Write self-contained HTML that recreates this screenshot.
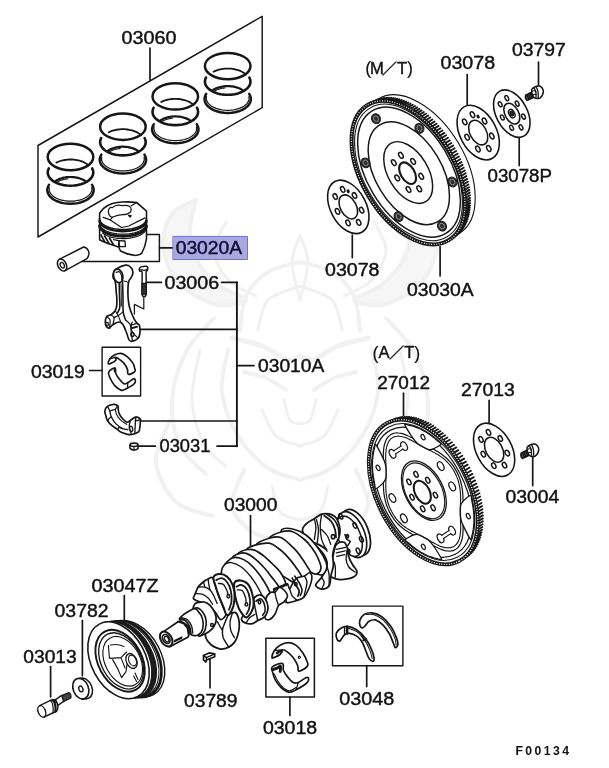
<!DOCTYPE html>
<html><head><meta charset="utf-8"><title>Piston &amp; Crankshaft</title>
<style>
html,body{margin:0;padding:0;background:#fff;}
body{width:609px;height:768px;overflow:hidden;}
svg{display:block;will-change:transform;}
svg text{font-family:"Liberation Sans",Arial,Helvetica,sans-serif;fill:#111;stroke:#111;stroke-width:0.42px;}
</style></head><body>
<svg width="609" height="768" viewBox="0 0 609 768" fill="none" stroke="#161616" stroke-linecap="round" stroke-linejoin="round">
<rect x="0" y="0" width="609" height="768" fill="#fff" stroke="none"/>
<g id="watermark" stroke="#f1f1f1" fill="none" stroke-width="4" stroke-linecap="round">
<path d="M196,200 C192,202.3 177.5,206.3 172,214 C166.5,221.7 162,234.7 163,246 C164,257.3 169.5,272.3 178,282 C186.5,291.7 202.7,301 214,304 C225.3,307 245,303 246,300 C247,297 228,292.3 220,286 C212,279.7 203,271 198,262 C193,253 190.3,242.3 190,232 C189.7,221.7 195,205.3 196,200 Z" stroke-width="4" fill="#f6f6f6"/>
<path d="M404,200 C408,202.3 422.5,206.3 428,214 C433.5,221.7 438,234.7 437,246 C436,257.3 430.5,272.3 422,282 C413.5,291.7 397.3,301 386,304 C374.7,307 355,303 354,300 C353,297 372,292.3 380,286 C388,279.7 397,271 402,262 C407,253 409.7,242.3 410,232 C410.3,221.7 405,205.3 404,200 Z" stroke-width="4" fill="#f6f6f6"/>
<path d="M226,222 C224,226.7 213.7,240.3 214,250 C214.3,259.7 221,272.3 228,280 C235,287.7 251.3,293.3 256,296" stroke-width="3" fill="none"/>
<path d="M374,222 C376,226.7 386.3,240.3 386,250 C385.7,259.7 379,272.3 372,280 C365,287.7 348.7,293.3 344,296" stroke-width="3" fill="none"/>
<path d="M240,330 C241,324.3 241.3,305.7 246,296 C250.7,286.3 259,277.7 268,272 C277,266.3 294.7,263.7 300,262" stroke-width="4" fill="none"/>
<path d="M360,330 C359,324.3 358.7,305.7 354,296 C349.3,286.3 341,277.7 332,272 C323,266.3 305.3,263.7 300,262" stroke-width="4" fill="none"/>
<path d="M258,330 C259.7,325 261,307.3 268,300 C275,292.7 294.7,288.3 300,286" stroke-width="3" fill="none"/>
<path d="M342,330 C340.3,325 339,307.3 332,300 C325,292.7 305.3,288.3 300,286" stroke-width="3" fill="none"/>
<path d="M300,236 C298.7,240.3 292,251.3 292,262 C292,272.7 298.7,293.7 300,300" stroke-width="3" fill="none"/>
<path d="M300,236 C301.3,240.3 308,251.3 308,262 C308,272.7 301.3,293.7 300,300" stroke-width="3" fill="none"/>
<path d="M232,338 C237,339.3 252.7,342.3 262,346 C271.3,349.7 281.7,358.3 288,360 C294.3,361.7 298,356.7 300,356" stroke-width="5" fill="none"/>
<path d="M368,338 C363,339.3 347.3,342.3 338,346 C328.7,349.7 318.3,358.3 312,360 C305.7,361.7 302,356.7 300,356" stroke-width="5" fill="none"/>
<path d="M244,372 C247.7,373 259,375 266,378 C273,381 282.7,388 286,390" stroke-width="4" fill="none"/>
<path d="M356,372 C352.3,373 341,375 334,378 C327,381 317.3,388 314,390" stroke-width="4" fill="none"/>
<path d="M228,350 C227,357 220.3,377.7 222,392 C223.7,406.3 230.3,423.3 238,436 C245.7,448.7 257.7,460.7 268,468 C278.3,475.3 294.7,478 300,480" stroke-width="4" fill="none"/>
<path d="M372,350 C373,357 379.7,377.7 378,392 C376.3,406.3 369.7,423.3 362,436 C354.3,448.7 342.3,460.7 332,468 C321.7,475.3 305.3,478 300,480" stroke-width="4" fill="none"/>
<path d="M262,410 C264.3,414.3 269.7,430 276,436 C282.3,442 296,444.3 300,446" stroke-width="3" fill="none"/>
<path d="M338,410 C335.7,414.3 330.3,430 324,436 C317.7,442 304,444.3 300,446" stroke-width="3" fill="none"/>
<path d="M284,400 C285,403.3 287.3,416 290,420 C292.7,424 298.3,423.3 300,424" stroke-width="3" fill="none"/>
<path d="M316,400 C315,403.3 312.7,416 310,420 C307.3,424 301.7,423.3 300,424" stroke-width="3" fill="none"/>
<path d="M214,318 C209.3,323.7 193,338.3 186,352 C179,365.7 173,384.3 172,400 C171,415.7 174.3,433.7 180,446 C185.7,458.3 201.7,469.3 206,474" stroke-width="4" fill="none"/>
<path d="M386,318 C390.7,323.7 407,338.3 414,352 C421,365.7 427,384.3 428,400 C429,415.7 425.7,433.7 420,446 C414.3,458.3 398.3,469.3 394,474" stroke-width="4" fill="none"/>
<path d="M200,350 C198.7,358.3 191.3,384.3 192,400 C192.7,415.7 198.3,433 204,444 C209.7,455 222.3,462.3 226,466" stroke-width="3" fill="none"/>
<path d="M400,350 C401.3,358.3 408.7,384.3 408,400 C407.3,415.7 401.7,433 396,444 C390.3,455 377.7,462.3 374,466" stroke-width="3" fill="none"/>
<path d="M170,420 C167.7,427 155,448.3 156,462 C157,475.7 166.7,493 176,502 C185.3,511 206,513.7 212,516" stroke-width="4" fill="none"/>
<path d="M430,420 C432.3,427 445,448.3 444,462 C443,475.7 433.3,493 424,502 C414.7,511 394,513.7 388,516" stroke-width="4" fill="none"/>
<path d="M244,470 C242,476 230,495.3 232,506 C234,516.7 244.7,527.7 256,534 C267.3,540.3 292.7,542.3 300,544" stroke-width="4" fill="none"/>
<path d="M356,470 C358,476 370,495.3 368,506 C366,516.7 355.3,527.7 344,534 C332.7,540.3 307.3,542.3 300,544" stroke-width="4" fill="none"/>
<path d="M272,486 C273.3,490.3 275.3,506.3 280,512 C284.7,517.7 296.7,518.7 300,520" stroke-width="3" fill="none"/>
<path d="M328,486 C326.7,490.3 324.7,506.3 320,512 C315.3,517.7 303.3,518.7 300,520" stroke-width="3" fill="none"/>
</g>
<g id="rings">
<path d="M38,145.5 L262.2,16.3 L262.2,107.7 L38,237 Z" stroke-width="1.46" fill="none" />
<line x1="150" y1="48" x2="150" y2="80.5" stroke-width="1.68" />
<text x="121.6" y="44" font-size="17.6" textLength="54.9" lengthAdjust="spacingAndGlyphs" >03060</text>
<ellipse cx="70.5" cy="157" rx="22.8" ry="13.2" stroke-width="2.46" fill="none" />
<path d="M56.4,162.6 L57.6,162 L58.9,161.5 L60.2,161 L61.6,160.6 L63.1,160.3 L64.5,160 L66,159.8 L67.6,159.6 L69.1,159.5 L70.7,159.5 L72.2,159.5 L73.8,159.6 L75.3,159.8 L76.8,160.1 L78.3,160.4 L79.7,160.7 L81.1,161.1 L82.4,161.6 L83.6,162.1 L84.8,162.7 L85.9,163.4 L86.9,164 L87.9,164.7 L88.7,165.5" stroke-width="1.79" fill="none" />
<path d="M92.2,168.4 L93,170.4 L93.3,172.5 L93,174.6 L92.2,176.6 L90.8,178.5 L88.9,180.3 L86.6,181.8 L83.9,183.2 L80.9,184.3 L77.5,185.1 L74.1,185.5 L70.5,185.7 L66.9,185.5 L63.5,185.1 L60.1,184.3 L57.1,183.2 L54.4,181.8 L52.1,180.3 L50.2,178.5 L48.8,176.6 L48,174.6 L47.7,172.5 L48,170.4 L48.8,168.4" stroke-width="2.58" fill="none" />
<path d="M55.3,181.3 L56.3,180.6 L57.4,180 L58.5,179.4 L59.7,178.9 L61,178.5 L62.3,178.1 L63.7,177.7 L65.1,177.5 L66.5,177.2 L67.9,177.1 L69.4,177 L70.9,177 L72.3,177.1 L73.8,177.2 L75.2,177.3 L76.6,177.6 L78,177.9 L79.3,178.3 L80.6,178.7 L81.9,179.2 L83.1,179.7 L84.2,180.3 L85.2,181 L86.2,181.6" stroke-width="2.24" fill="none" />
<path d="M57.5,181.9 L57.8,181.7 L58.2,181.5 L58.6,181.3 L58.9,181.1 L59.3,181 L59.7,180.8 L60.1,180.6 L60.6,180.4 L61,180.3 L61.4,180.1 L61.8,180 L62.3,179.9 L62.7,179.7 L63.1,179.6 L63.6,179.5 L64,179.4 L64.5,179.3 L65,179.2 L65.4,179.1 L65.9,179.1 L66.4,179 L66.8,178.9 L67.3,178.9 L67.8,178.8" stroke-width="1.12" fill="none" />
<path d="M92,184.8 L93.1,187 L93.7,189.2 L93.6,191.4 L92.9,193.6 L91.6,195.8 L89.7,197.7 L87.4,199.5 L84.6,201 L81.4,202.2 L77.9,203.1 L74.3,203.6 L70.5,203.8 L66.7,203.6 L63.1,203.1 L59.6,202.2 L56.4,201 L53.6,199.5 L51.3,197.7 L49.4,195.8 L48.1,193.6 L47.4,191.4 L47.3,189.2 L47.9,187 L49,184.8" stroke-width="2.46" fill="none" />
<path d="M91.7,187.5 L91.9,189.2 L91.7,190.9 L91,192.6 L89.9,194.2 L88.5,195.7 L86.7,197.1 L84.5,198.3 L82.1,199.3 L79.4,200.1 L76.5,200.7 L73.5,201.1 L70.5,201.2 L67.5,201.1 L64.5,200.7 L61.6,200.1 L58.9,199.3 L56.5,198.3 L54.3,197.1 L52.5,195.7 L51.1,194.2 L50,192.6 L49.3,190.9 L49.1,189.2 L49.3,187.5" stroke-width="1.23" fill="none" />
<ellipse cx="122.9" cy="126.7" rx="22.8" ry="13.2" stroke-width="2.46" fill="none" />
<path d="M108.8,132.3 L110,131.7 L111.3,131.2 L112.6,130.7 L114,130.3 L115.5,130 L116.9,129.7 L118.4,129.5 L120,129.3 L121.5,129.2 L123.1,129.2 L124.6,129.2 L126.2,129.3 L127.7,129.5 L129.2,129.8 L130.7,130.1 L132.1,130.4 L133.5,130.8 L134.8,131.3 L136,131.8 L137.2,132.4 L138.3,133.1 L139.3,133.7 L140.3,134.4 L141.1,135.2" stroke-width="1.79" fill="none" />
<path d="M144.6,138.1 L145.4,140.1 L145.7,142.2 L145.4,144.3 L144.6,146.3 L143.2,148.2 L141.3,150 L139,151.5 L136.3,152.9 L133.3,154 L129.9,154.8 L126.5,155.2 L122.9,155.4 L119.3,155.2 L115.9,154.8 L112.5,154 L109.5,152.9 L106.8,151.5 L104.5,150 L102.6,148.2 L101.2,146.3 L100.4,144.3 L100.1,142.2 L100.4,140.1 L101.2,138.1" stroke-width="2.58" fill="none" />
<path d="M107.7,151 L108.7,150.3 L109.8,149.7 L110.9,149.1 L112.1,148.6 L113.4,148.2 L114.7,147.8 L116.1,147.4 L117.5,147.2 L118.9,146.9 L120.3,146.8 L121.8,146.7 L123.3,146.7 L124.7,146.8 L126.2,146.9 L127.6,147 L129,147.3 L130.4,147.6 L131.7,148 L133,148.4 L134.3,148.9 L135.5,149.4 L136.6,150 L137.6,150.7 L138.6,151.3" stroke-width="2.24" fill="none" />
<path d="M109.9,151.6 L110.2,151.4 L110.6,151.2 L111,151 L111.3,150.8 L111.7,150.7 L112.1,150.5 L112.5,150.3 L113,150.1 L113.4,150 L113.8,149.8 L114.2,149.7 L114.7,149.6 L115.1,149.4 L115.5,149.3 L116,149.2 L116.4,149.1 L116.9,149 L117.4,148.9 L117.8,148.8 L118.3,148.8 L118.8,148.7 L119.2,148.6 L119.7,148.6 L120.2,148.5" stroke-width="1.12" fill="none" />
<path d="M144.4,154.5 L145.5,156.7 L146.1,158.9 L146,161.1 L145.3,163.3 L144,165.5 L142.1,167.4 L139.8,169.2 L137,170.7 L133.8,171.9 L130.3,172.8 L126.7,173.3 L122.9,173.5 L119.1,173.3 L115.5,172.8 L112,171.9 L108.8,170.7 L106,169.2 L103.7,167.4 L101.8,165.5 L100.5,163.3 L99.8,161.1 L99.7,158.9 L100.3,156.7 L101.4,154.5" stroke-width="2.46" fill="none" />
<path d="M144.1,157.2 L144.3,158.9 L144.1,160.6 L143.4,162.3 L142.3,163.9 L140.9,165.4 L139.1,166.8 L136.9,168 L134.5,169 L131.8,169.8 L128.9,170.4 L125.9,170.8 L122.9,170.9 L119.9,170.8 L116.9,170.4 L114,169.8 L111.3,169 L108.9,168 L106.7,166.8 L104.9,165.4 L103.5,163.9 L102.4,162.3 L101.7,160.6 L101.5,158.9 L101.7,157.2" stroke-width="1.23" fill="none" />
<ellipse cx="175.3" cy="96.4" rx="22.8" ry="13.2" stroke-width="2.46" fill="none" />
<path d="M161.2,102 L162.4,101.4 L163.7,100.9 L165,100.4 L166.4,100 L167.9,99.7 L169.3,99.4 L170.8,99.2 L172.4,99 L173.9,98.9 L175.5,98.9 L177,98.9 L178.6,99 L180.1,99.2 L181.6,99.5 L183.1,99.8 L184.5,100.1 L185.9,100.5 L187.2,101 L188.4,101.5 L189.6,102.1 L190.7,102.8 L191.7,103.4 L192.7,104.1 L193.5,104.9" stroke-width="1.79" fill="none" />
<path d="M197,107.8 L197.8,109.8 L198.1,111.9 L197.8,114 L197,116 L195.6,117.9 L193.7,119.7 L191.4,121.2 L188.7,122.6 L185.7,123.7 L182.3,124.5 L178.9,124.9 L175.3,125.1 L171.7,124.9 L168.3,124.5 L164.9,123.7 L161.9,122.6 L159.2,121.2 L156.9,119.7 L155,117.9 L153.6,116 L152.8,114 L152.5,111.9 L152.8,109.8 L153.6,107.8" stroke-width="2.58" fill="none" />
<path d="M160.1,120.7 L161.1,120 L162.2,119.4 L163.3,118.8 L164.5,118.3 L165.8,117.9 L167.1,117.5 L168.5,117.1 L169.9,116.9 L171.3,116.6 L172.7,116.5 L174.2,116.4 L175.7,116.4 L177.1,116.5 L178.6,116.6 L180,116.7 L181.4,117 L182.8,117.3 L184.1,117.7 L185.4,118.1 L186.7,118.6 L187.9,119.1 L189,119.7 L190,120.4 L191,121" stroke-width="2.24" fill="none" />
<path d="M162.3,121.3 L162.6,121.1 L163,120.9 L163.4,120.7 L163.7,120.5 L164.1,120.4 L164.5,120.2 L164.9,120 L165.4,119.8 L165.8,119.7 L166.2,119.5 L166.6,119.4 L167.1,119.3 L167.5,119.1 L167.9,119 L168.4,118.9 L168.8,118.8 L169.3,118.7 L169.8,118.6 L170.2,118.5 L170.7,118.5 L171.2,118.4 L171.6,118.3 L172.1,118.3 L172.6,118.2" stroke-width="1.12" fill="none" />
<path d="M196.8,124.2 L197.9,126.4 L198.5,128.6 L198.4,130.8 L197.7,133 L196.4,135.2 L194.5,137.1 L192.2,138.9 L189.4,140.4 L186.2,141.6 L182.7,142.5 L179.1,143 L175.3,143.2 L171.5,143 L167.9,142.5 L164.4,141.6 L161.2,140.4 L158.4,138.9 L156.1,137.1 L154.2,135.2 L152.9,133 L152.2,130.8 L152.1,128.6 L152.7,126.4 L153.8,124.2" stroke-width="2.46" fill="none" />
<path d="M196.5,126.9 L196.7,128.6 L196.5,130.3 L195.8,132 L194.7,133.6 L193.3,135.1 L191.5,136.5 L189.3,137.7 L186.9,138.7 L184.2,139.5 L181.3,140.1 L178.3,140.5 L175.3,140.6 L172.3,140.5 L169.3,140.1 L166.4,139.5 L163.7,138.7 L161.3,137.7 L159.1,136.5 L157.3,135.1 L155.9,133.6 L154.8,132 L154.1,130.3 L153.9,128.6 L154.1,126.9" stroke-width="1.23" fill="none" />
<ellipse cx="227.7" cy="66.1" rx="22.8" ry="13.2" stroke-width="2.46" fill="none" />
<path d="M213.6,71.7 L214.8,71.1 L216.1,70.6 L217.4,70.1 L218.8,69.7 L220.3,69.4 L221.7,69.1 L223.2,68.9 L224.8,68.7 L226.3,68.6 L227.9,68.6 L229.4,68.6 L231,68.7 L232.5,68.9 L234,69.2 L235.5,69.5 L236.9,69.8 L238.3,70.2 L239.6,70.7 L240.8,71.2 L242,71.8 L243.1,72.5 L244.1,73.1 L245.1,73.8 L245.9,74.6" stroke-width="1.79" fill="none" />
<path d="M249.4,77.5 L250.2,79.5 L250.5,81.6 L250.2,83.7 L249.4,85.7 L248,87.6 L246.1,89.4 L243.8,90.9 L241.1,92.3 L238.1,93.4 L234.7,94.2 L231.3,94.6 L227.7,94.8 L224.1,94.6 L220.7,94.2 L217.3,93.4 L214.3,92.3 L211.6,90.9 L209.3,89.4 L207.4,87.6 L206,85.7 L205.2,83.7 L204.9,81.6 L205.2,79.5 L206,77.5" stroke-width="2.58" fill="none" />
<path d="M212.5,90.4 L213.5,89.7 L214.6,89.1 L215.7,88.5 L216.9,88 L218.2,87.6 L219.5,87.2 L220.9,86.8 L222.3,86.6 L223.7,86.3 L225.1,86.2 L226.6,86.1 L228.1,86.1 L229.5,86.2 L231,86.3 L232.4,86.4 L233.8,86.7 L235.2,87 L236.5,87.4 L237.8,87.8 L239.1,88.3 L240.3,88.8 L241.4,89.4 L242.4,90.1 L243.4,90.7" stroke-width="2.24" fill="none" />
<path d="M214.7,91 L215,90.8 L215.4,90.6 L215.8,90.4 L216.1,90.2 L216.5,90.1 L216.9,89.9 L217.3,89.7 L217.8,89.5 L218.2,89.4 L218.6,89.2 L219,89.1 L219.5,89 L219.9,88.8 L220.3,88.7 L220.8,88.6 L221.2,88.5 L221.7,88.4 L222.2,88.3 L222.6,88.2 L223.1,88.2 L223.6,88.1 L224,88 L224.5,88 L225,87.9" stroke-width="1.12" fill="none" />
<path d="M249.2,93.9 L250.3,96.1 L250.9,98.3 L250.8,100.5 L250.1,102.7 L248.8,104.9 L246.9,106.8 L244.6,108.6 L241.8,110.1 L238.6,111.3 L235.1,112.2 L231.5,112.7 L227.7,112.9 L223.9,112.7 L220.3,112.2 L216.8,111.3 L213.6,110.1 L210.8,108.6 L208.5,106.8 L206.6,104.9 L205.3,102.7 L204.6,100.5 L204.5,98.3 L205.1,96.1 L206.2,93.9" stroke-width="2.46" fill="none" />
<path d="M248.9,96.6 L249.1,98.3 L248.9,100 L248.2,101.7 L247.1,103.3 L245.7,104.8 L243.9,106.2 L241.7,107.4 L239.3,108.4 L236.6,109.2 L233.7,109.8 L230.7,110.2 L227.7,110.3 L224.7,110.2 L221.7,109.8 L218.8,109.2 L216.1,108.4 L213.7,107.4 L211.5,106.2 L209.7,104.8 L208.3,103.3 L207.2,101.7 L206.5,100 L206.3,98.3 L206.5,96.6" stroke-width="1.23" fill="none" />
</g>
<g id="piston">
<path d="M99.6,213.3 L99.6,239.7 L103,241.5 L108,243.5 L118.7,247 L120.5,251 Q128,255 135.8,255.5 Q141,254.6 141.9,253 Q145.6,246 146.5,238.7 L146.5,211.2 L136.8,202.6 Q130,201.6 122.5,202 Q117,202.4 112.4,203.6 Q106.6,205.6 103.2,208.7 Z" stroke-width="1.57" fill="#fff" />
<path d="M108.3,211.2 Q109,206.6 112.4,207.6 Q116,204 122.5,205.6 Q127.4,205 129.7,206.6 Q132.4,209 130.2,212.2 Q127.6,214.6 122.6,214.6 Q117.4,214.8 112.4,217.3 Q108.6,216.6 108.3,211.2 Z" stroke-width="1.23" fill="none" />
<path d="M103.2,217.4 L110.3,219.9 L121.5,227.5 L128.7,226 L145,217.9" stroke-width="1.23" fill="none" />
<path d="M112.4,217.3 L110.3,219.9 M136.8,202.6 L131,206" stroke-width="1.12" fill="none" />
<path d="M128.4,215.4 L130.2,217.2 L131.2,215.6 Z" stroke-width="1.12" fill="#222" />
<path d="M146.5,218.5 L146.3,219.9 L145.7,221.3 L144.7,222.7 L143.4,224 L141.6,225.2 L139.6,226.3 L137.3,227.2 L134.8,228 L132,228.7 L129.1,229.1 L126.1,229.4 L123,229.5 L119.9,229.4 L116.9,229.1 L114,228.7 L111.2,228 L108.7,227.2 L106.4,226.3 L104.4,225.2 L102.6,224 L101.3,222.7 L100.3,221.3 L99.7,219.9 L99.5,218.5" stroke-width="1.46" fill="none" />
<path d="M146.5,220.8 L146.1,222.2 L145.4,223.5 L144.3,224.8 L142.9,226 L141.2,227.2 L139.2,228.2 L136.9,229.1 L134.4,229.8 L131.7,230.4 L128.9,230.8 L126,231.1 L123,231.2 L120,231.1 L117.1,230.8 L114.3,230.4 L111.6,229.8 L109.1,229.1 L106.8,228.2 L104.8,227.2 L103.1,226 L101.7,224.8 L100.6,223.5 L99.9,222.2 L99.5,220.8" stroke-width="2.46" fill="none" />
<path d="M146.5,223.8 L146.1,225.2 L145.4,226.5 L144.3,227.8 L142.9,229 L141.2,230.2 L139.2,231.2 L136.9,232.1 L134.4,232.8 L131.7,233.4 L128.9,233.8 L126,234.1 L123,234.2 L120,234.1 L117.1,233.8 L114.3,233.4 L111.6,232.8 L109.1,232.1 L106.8,231.2 L104.8,230.2 L103.1,229 L101.7,227.8 L100.6,226.5 L99.9,225.2 L99.5,223.8" stroke-width="1.23" fill="none" />
<path d="M146.5,225.8 L146.1,227.2 L145.4,228.5 L144.3,229.8 L142.9,231 L141.2,232.2 L139.2,233.2 L136.9,234.1 L134.4,234.8 L131.7,235.4 L128.9,235.8 L126,236.1 L123,236.2 L120,236.1 L117.1,235.8 L114.3,235.4 L111.6,234.8 L109.1,234.1 L106.8,233.2 L104.8,232.2 L103.1,231 L101.7,229.8 L100.6,228.5 L99.9,227.2 L99.5,225.8" stroke-width="2.91" fill="none" />
<path d="M146.3,229.1 L145.8,230.2 L145.1,231.3 L144.2,232.4 L143,233.4 L141.6,234.3 L140,235.2 L138.3,236 L136.4,236.6 L134.3,237.2 L132.1,237.7 L129.8,238.1 L127.5,238.4 L125.1,238.6 L122.7,238.6 L120.2,238.5 L117.8,238.3 L115.5,238 L113.3,237.6 L111.1,237.1 L109.1,236.5 L107.2,235.7 L105.5,234.9 L104,234.1 L102.6,233.1" stroke-width="1.23" fill="none" />
<path d="M101,235 L104.6,241.6 M104.6,236 L109,243.4 M109.4,238 L113.6,245" stroke-width="1.68" fill="none" />
<path d="M118.7,240.6 L125,241 L125.4,246.6 L119.6,246.6 Z" stroke-width="1.34" fill="none" />
<path d="M113.6,239.6 L118.7,240.6 L118.7,247" stroke-width="1.23" fill="none" />
</g>
<g id="pin">
<path d="M59.6,259.2 L83.6,247 Q88.5,248 89,253.5 Q88.6,257 87,258.6 L64.6,270.8" stroke-width="1.46" fill="#fff" />
<ellipse cx="62.1" cy="265" rx="4.2" ry="6.3" stroke-width="1.57" fill="#fff" transform="rotate(-27 62.1 265)" />
<ellipse cx="62.3" cy="265.2" rx="1.9" ry="2.9" stroke-width="1.34" fill="none" transform="rotate(-27 62.3 265.2)" />
</g>
<path d="M146.6,234.4 L159.4,234.4 L159.4,261.5 L82.5,261.5" stroke-width="1.46" fill="none" />
<line x1="159.4" y1="247.8" x2="173" y2="247.8" stroke-width="1.68" />
<rect x="173.3" y="236.4" width="74.2" height="23.1" fill="#a9a9e1" stroke="#7373d3" stroke-width="1"/>
<text x="175.7" y="254.3" font-size="17.6" textLength="66.4" lengthAdjust="spacingAndGlyphs" style="fill:#0a0a50">03020A</text>
<g id="conrod">
<path d="M113.5,272.9 C114.2,270.9 113.5,270.7 116.3,268.9 C119.1,267.1 122.2,265.5 125.5,265.1 C128.8,264.7 128.9,265.5 130.6,267.2 C132.4,268.8 132.8,269.9 132.9,272.3 C133.1,274.7 132.3,275.1 131.2,277.5 C130.2,279.9 129.2,278.4 128.5,282.6 C127.7,286.9 127.8,290.1 128,295.8 C128.3,301.5 128.2,302.2 129.5,307.3 C130.8,312.3 131.8,313.9 133.5,317.6 C135.2,321.3 135.6,321.1 136.9,323.1 C138.3,325 138.8,323.6 139.5,325.8 C140.2,328 140.2,329.6 139.9,332.5 C139.6,335.3 139.9,336.2 138.1,338.2 C136.3,340.2 134.5,340.8 132.4,341.2 C130.2,341.5 130.4,341.8 128.9,339.6 C127.5,337.3 127.9,335.5 126.1,331.5 C124.2,327.5 124,324 120.9,322.4 C117.8,320.8 115.6,323.4 112.9,324.7 C110.2,325.9 110.9,327.4 109.5,327.9 C108,328.4 107.6,328.1 106.6,326.7 C105.6,325.4 105.3,324.5 105.3,322.1 C105.3,319.8 105.4,318.4 106.6,316.6 C107.8,314.9 108.6,316.2 110.6,314.8 C112.6,313.4 113.7,313.3 115.2,310.7 C116.7,308.1 116.6,308.1 116.9,303.8 C117.2,299.5 116.7,297.6 116.3,292.4 C115.9,287.2 115.9,285 115.2,281.5 C114.4,278 113.5,279.5 113.1,277.5 C112.7,275.5 112.7,274.9 113.5,272.9 Z" stroke-width="1.68" fill="#fff" />
<ellipse cx="118.2" cy="275.9" rx="4.6" ry="6.9" stroke-width="1.68" fill="#fff" transform="rotate(-14 118.2 275.9)" />
<path d="M116.3,272.3 C116.8,272.2 118.3,271.3 119.2,271.7 C120.1,272.2 121,273.8 121.5,275.2 C121.9,276.5 121.8,279 121.8,279.8" stroke-width="1.23" fill="none" />
<path d="M122.6,280.9 C123.2,281 125.1,281.2 126.1,281.5 C127,281.8 128.1,282.4 128.5,282.6" stroke-width="1.12" fill="none" />
<path d="M119.2,283.4 C119.2,285.5 119.4,291.8 119.5,295.8 C119.6,299.8 120.1,304.4 119.8,307.3 C119.4,310.1 117.9,312 117.5,313" stroke-width="1.57" fill="none" />
<path d="M122.6,282.6 C122.7,285 122.9,292.1 123,296.9 C123.1,301.8 122.8,308 123.2,311.8 C123.6,315.7 125.1,318.5 125.5,319.9" stroke-width="1.57" fill="none" />
<path d="M120.9,283.8 C121,285.8 121.2,292.1 121.3,295.8 C121.3,299.5 121.3,304.4 121.4,306.1" stroke-width="1.01" fill="none" />
<path d="M110.6,314.8 C111.2,315.3 113.6,316.3 114,317.6 C114.5,318.8 113.7,321 113.5,322.1 C113.3,323.3 113,324.2 112.9,324.7" stroke-width="1.23" fill="none" />
<path d="M106.6,316.6 C107.2,317.2 109.6,318 110,319.9 C110.5,321.7 109.6,326.5 109.5,327.9" stroke-width="1.23" fill="none" />
<path d="M114,317.6 C114.8,317.2 117.1,316.2 118.6,315.3 C120.1,314.3 122.4,312.4 123.2,311.8" stroke-width="1.23" fill="none" />
<path d="M115.2,310.7 C115.7,311.5 117.1,313.3 118,315.3 C119,317.2 120.4,321.2 120.9,322.4" stroke-width="1.12" fill="none" />
<path d="M125.5,319.9 C126.3,320.6 129.1,322.5 130.1,324.4 C131,326.3 130.8,328.5 131.2,331.3 C131.6,334.1 132.2,339.5 132.4,341.2" stroke-width="1.23" fill="none" />
<path d="M132.4,322.1 C132.2,322.6 130.7,324.8 131.4,325 C132.2,325.2 136,323.6 136.9,323.3" stroke-width="1.23" fill="none" />
<path d="M131.4,325 C131.5,326.1 130.8,329.1 131.9,331.3 C133,333.5 137.1,337 138.1,338.2" stroke-width="1.12" fill="none" />
<path d="M131.9,328.1 L136.9,326.7" stroke-width="2.02" fill="none" />
<ellipse cx="106.9" cy="324.2" rx="1.5" ry="1.8" stroke-width="1.34" fill="none" />
<ellipse cx="132.4" cy="334.5" rx="1.6" ry="2" stroke-width="1.34" fill="none" />
</g>
<g id="rodbolt">
<path d="M139.2,268.9 C139.4,268.3 140,267.3 141,266.9 C141.9,266.6 145.2,266.1 146.1,266.2 C147,266.4 147.8,267.5 147.9,268.1 C148.1,268.7 147.3,270.3 147,270.8 C146.8,271.4 146.2,269.1 146.1,272.3 C146,275.5 146.6,291.7 146.1,294.7 C145.6,297.6 142.6,297.6 142.1,294.7 C141.6,291.7 142.4,275.8 142.1,272.7 C141.8,269.5 140.3,271.7 139.9,271.2 C139.5,270.7 139.1,269.4 139.2,268.9 Z" stroke-width="1.46" fill="#fff" />
<path d="M142.1,283.4 L146.1,283.4 L146.1,294.7 L142.1,294.7 Z" stroke-width="1.12" fill="#5a5a5a" />
<path d="M142.1,284.6 L146.1,284.1" stroke-width="1.01" fill="none" />
<path d="M142.1,286.4 L146.1,285.9" stroke-width="1.01" fill="none" />
<path d="M142.1,288.2 L146.1,287.8" stroke-width="1.01" fill="none" />
<path d="M142.1,290.1 L146.1,289.6" stroke-width="1.01" fill="none" />
<path d="M142.1,291.9 L146.1,291.4" stroke-width="1.01" fill="none" />
<path d="M142.1,293.7 L146.1,293.3" stroke-width="1.01" fill="none" />
<path d="M140.6,269.5 L144.4,270.4 L147.3,269" stroke-width="1.12" fill="none" />
</g>
<path d="M143.8,297.5 L143.8,309 L134.4,304.4 L134.4,314.1" stroke-width="1.23" fill="none" />
<line x1="146.4" y1="282.4" x2="161.5" y2="282.4" stroke-width="1.68" />
<text x="164.5" y="288.6" font-size="17.6" textLength="54.6" lengthAdjust="spacingAndGlyphs" >03006</text>
<line x1="221.5" y1="282.4" x2="237.1" y2="282.4" stroke-width="1.68" />
<line x1="236.9" y1="282.4" x2="236.9" y2="446.2" stroke-width="1.9" />
<line x1="140" y1="329.3" x2="237.1" y2="329.3" stroke-width="1.68" />
<line x1="237.1" y1="365.7" x2="254" y2="365.7" stroke-width="1.68" />
<text x="258.1" y="371.6" font-size="17.6" textLength="66.1" lengthAdjust="spacingAndGlyphs" >03010A</text>
<rect x="102.1" y="347.3" width="38.5" height="48.7" stroke-width="1.4"/>
<text x="30.9" y="378.4" font-size="17.6" textLength="54" lengthAdjust="spacingAndGlyphs" >03019</text>
<line x1="89.6" y1="370.5" x2="102" y2="370.5" stroke-width="1.68" />
<g id="brg19">
<path d="M108.2,363.3 C108.1,362.4 108.6,360.6 109.8,358.9 C111.1,357.3 112.3,356.1 114.5,355 C116.8,353.9 118.3,353.1 120.9,353.4 C123.4,353.7 124.8,354.7 127.2,356.6 C129.5,358.5 131.2,360.6 132.7,362.9 C134.2,365.2 134.2,366.3 134.6,368 C135.1,369.7 136,370.3 134.7,371.6 C133.5,372.8 129.8,374.9 128.3,374.3 C126.9,373.8 128.3,371.1 127.3,368.8 C126.3,366.5 125.3,364.7 123.4,362.6 C121.5,360.6 119.5,359.4 117.9,358.3 C116.2,357.3 115.4,357.1 115,357.4 C114.6,357.8 116.8,358.8 116,360 C115.1,361.2 112.2,362.8 110.6,363.4 C109.1,364.1 108.4,364.2 108.2,363.3 Z" stroke-width="1.68" fill="#fff" />
<path d="M109.8,358.9 L115,357.4" stroke-width="1.34" fill="none" />
<path d="M108.6,372.3 C107.8,374.5 109.4,376.4 110.6,379 C111.8,381.6 112.5,383.1 114.5,385.3 C116.6,387.5 118.8,389.3 120.9,390.1 C122.9,390.9 122.3,390.5 125,389.3 C127.6,388 132.4,385.9 134.2,383.8 C136.1,381.7 135.5,379 134.2,378.7 C133,378.5 130,381.6 127.9,382.6 C125.9,383.6 125.7,384.5 124,383.8 C122.3,383.1 120.9,381.1 119.3,379 C117.6,377 116.7,375.7 115.8,373.5 C114.9,371.3 116.4,368.2 114.9,368 C113.5,367.8 109.5,370.1 108.6,372.3 Z" stroke-width="1.68" fill="#fff" />
<path d="M127.9,382.6 C127.9,383 127.7,384.5 127.6,385.3 C127.6,386.2 127.5,387.4 127.5,387.9" stroke-width="1.34" fill="none" />
<path d="M114.9,368 C114.8,368.3 114.2,368.9 114.2,369.6 C114.1,370.2 114.6,371.6 114.7,371.9" stroke-width="1.34" fill="none" />
</g>
<g id="cap">
<path d="M104.9,410.8 C105.2,408.7 105.3,407.9 107.4,406.4 C109.4,404.9 111.3,404.5 113.8,404.4 C116.2,404.3 116.6,404.6 117.7,405.9 C118.8,407.2 117.9,408 118.3,409.9 C118.7,411.7 118.3,411.7 119.3,413.8 C120.3,415.9 120.8,416.8 122.6,418.7 C124.4,420.7 125.2,421.8 127.1,422.2 C128.9,422.5 128.4,421.3 130.5,420.2 C132.6,419 133.7,417.6 135.9,417.2 C138.1,416.9 138.8,417.8 139.9,418.7 C140.9,419.6 140.5,418.7 140.4,421.2 C140.3,423.7 140.2,426.9 139.5,429.6 C138.8,432.2 139.3,431.4 137.4,432.5 C135.5,433.7 134,434.1 131.5,434.5 C129,434.9 129.1,434.6 126.6,434.1 C124,433.5 122.7,433.2 120.7,432.1 C118.6,431.1 119.5,431 117.7,429.6 C115.9,428.2 115.1,428.1 112.8,426.1 C110.5,424.2 109.5,423.6 107.9,421.2 C106.2,418.8 106.6,418.2 105.9,415.8 C105.2,413.3 104.6,413 104.9,410.8 Z" stroke-width="1.68" fill="#fff" />
<path d="M109.8,410.8 C110.1,411.8 110.3,414.6 111.3,416.7 C112.3,418.9 113.8,421.7 115.7,423.6 C117.6,425.6 120.6,427.6 122.6,428.6 C124.6,429.6 126.9,429.4 127.8,429.6" stroke-width="1.34" fill="none" />
<path d="M117.7,405.9 L115.3,409.4 L109.8,410.8 L107.4,406.4" stroke-width="1.34" fill="none" />
<path d="M115.3,409.4 C115.6,410.3 115.8,413 116.7,414.8 C117.6,416.6 119,418.6 120.7,420.2 C122.3,421.8 125.8,423.7 126.8,424.4" stroke-width="1.12" fill="none" />
<path d="M130.5,420.2 L129.3,424.6 L129.5,428.6 L131.5,434.5" stroke-width="1.34" fill="none" />
<path d="M135.9,417.2 L135.4,421.2 L134.9,432.5" stroke-width="1.34" fill="none" />
<path d="M135.4,421.2 L140.2,419.7" stroke-width="1.23" fill="none" />
<ellipse cx="131.1" cy="428.8" rx="1.6" ry="2.6" stroke-width="1.34" fill="none" transform="rotate(-10 131.1 428.8)" />
<path d="M107.9,421.2 L108.8,418.7 L111.3,416.7" stroke-width="1.12" fill="none" />
<path d="M117.7,429.6 L118.7,427.4 L122.6,428.6" stroke-width="1.12" fill="none" />
</g>
<line x1="140.4" y1="421" x2="237.1" y2="421" stroke-width="1.68" />
<g id="nut">
<path d="M130,445 L130,448.4 Q133.6,451.6 138,448.6 L138,445 Z" stroke-width="1.57" fill="#fff" />
<ellipse cx="134" cy="444.8" rx="4" ry="1.7" stroke-width="1.57" fill="#fff" />
<line x1="134" y1="446.8" x2="134" y2="450.2" stroke-width="1.12" />
</g>
<line x1="138.6" y1="446.2" x2="155.3" y2="446.2" stroke-width="1.68" />
<text x="159.5" y="452.4" font-size="17.6" textLength="50.8" lengthAdjust="spacingAndGlyphs" >03031</text>
<line x1="217" y1="446.2" x2="237.1" y2="446.2" stroke-width="1.68" />
<g id="flywheel">
<ellipse cx="418.8" cy="166.2" rx="78.5" ry="45.9" stroke-width="1.12" fill="#fff" transform="rotate(59 418.8 166.2)" />
<path d="M448.8,240.2 l5.3,-3.2 M447.3,241.1 l5.3,-3.2 M445.6,241.9 l5.3,-3.2 M443.9,242.6 l5.3,-3.2 M442.1,243.1 l5.3,-3.2 M440.3,243.6 l5.3,-3.2 M438.5,243.9 l5.3,-3.2 M436.6,244.1 l5.3,-3.2 M434.6,244.3 l5.3,-3.2 M432.6,244.3 l5.3,-3.2 M430.6,244.2 l5.3,-3.2 M428.5,244 l5.3,-3.2 M426.4,243.7 l5.3,-3.2 M424.3,243.2 l5.3,-3.2 M422.2,242.7 l5.3,-3.2 M420,242 l5.3,-3.2 M417.8,241.3 l5.3,-3.2 M415.6,240.4 l5.3,-3.2 M413.4,239.5 l5.3,-3.2 M411.2,238.4 l5.3,-3.2 M409,237.2 l5.3,-3.2 M406.7,236 l5.3,-3.2 M404.5,234.6 l5.3,-3.2 M402.3,233.1 l5.3,-3.2 M400.1,231.6 l5.3,-3.2 M397.9,229.9 l5.3,-3.2 M395.7,228.2 l5.3,-3.2 M393.5,226.4 l5.3,-3.2 M391.4,224.5 l5.3,-3.2 M389.3,222.5 l5.3,-3.2 M387.2,220.4 l5.3,-3.2 M385.1,218.3 l5.3,-3.2 M383.1,216.1 l5.3,-3.2 M381.2,213.8 l5.3,-3.2 M379.2,211.5 l5.3,-3.2 M377.3,209.1 l5.3,-3.2 M375.5,206.7 l5.3,-3.2 M373.7,204.2 l5.3,-3.2 M371.9,201.6 l5.3,-3.2 M370.3,199 l5.3,-3.2 M368.6,196.4 l5.3,-3.2 M367.1,193.7 l5.3,-3.2 M365.6,191 l5.3,-3.2 M364.1,188.3 l5.3,-3.2 M362.8,185.5 l5.3,-3.2 M361.5,182.7 l5.3,-3.2 M360.2,179.9 l5.3,-3.2 M359.1,177.1 l5.3,-3.2 M358,174.3 l5.3,-3.2 M357,171.5 l5.3,-3.2 M356.1,168.7 l5.3,-3.2 M355.3,165.9 l5.3,-3.2 M354.5,163.1 l5.3,-3.2 M353.8,160.3 l5.3,-3.2 M353.2,157.5 l5.3,-3.2 M352.7,154.8 l5.3,-3.2 M352.3,152.1 l5.3,-3.2 M352,149.4 l5.3,-3.2 M351.7,146.8 l5.3,-3.2 M351.6,144.1 l5.3,-3.2 M351.5,141.6 l5.3,-3.2 M351.5,139.1 l5.3,-3.2 M351.6,136.6 l5.3,-3.2 M351.8,134.2 l5.3,-3.2 M352.1,131.9 l5.3,-3.2 M352.4,129.6 l5.3,-3.2 M352.9,127.4 l5.3,-3.2 M353.4,125.2 l5.3,-3.2 M354,123.1 l5.3,-3.2 M354.7,121.1 l5.3,-3.2 M355.5,119.2 l5.3,-3.2 M356.4,117.4 l5.3,-3.2 M357.3,115.6 l5.3,-3.2 M358.3,114 l5.3,-3.2 M359.5,112.4 l5.3,-3.2 M360.6,110.9 l5.3,-3.2 M361.9,109.5 l5.3,-3.2 M363.2,108.2 l5.3,-3.2 M364.6,107 l5.3,-3.2 M366,106 l5.3,-3.2 M367.6,105 l5.3,-3.2 M369.1,104.1 l5.3,-3.2 M370.8,103.3 l5.3,-3.2 M372.5,102.6 l5.3,-3.2 M374.3,102.1 l5.3,-3.2 M376.1,101.6 l5.3,-3.2 M377.9,101.3 l5.3,-3.2 M379.8,101.1 l5.3,-3.2 M381.8,100.9 l5.3,-3.2 M383.8,100.9 l5.3,-3.2 M385.8,101 l5.3,-3.2 M387.9,101.2 l5.3,-3.2 M390,101.5 l5.3,-3.2 M392.1,102 l5.3,-3.2 M394.2,102.5 l5.3,-3.2 M396.4,103.2 l5.3,-3.2 M398.6,103.9 l5.3,-3.2 M400.8,104.8 l5.3,-3.2 M403,105.7 l5.3,-3.2 M405.2,106.8 l5.3,-3.2 M407.4,108 l5.3,-3.2 M409.7,109.2 l5.3,-3.2 M411.9,110.6 l5.3,-3.2 M414.1,112.1 l5.3,-3.2 M416.3,113.6 l5.3,-3.2 M418.5,115.3 l5.3,-3.2 M420.7,117 l5.3,-3.2 M422.9,118.8 l5.3,-3.2 M425,120.7 l5.3,-3.2 M427.1,122.7 l5.3,-3.2 M429.2,124.8 l5.3,-3.2 M431.3,126.9 l5.3,-3.2 M433.3,129.1 l5.3,-3.2 M435.2,131.4 l5.3,-3.2 M437.2,133.7 l5.3,-3.2 M439.1,136.1 l5.3,-3.2 M440.9,138.5 l5.3,-3.2 M442.7,141 l5.3,-3.2 M444.5,143.6 l5.3,-3.2 M446.1,146.2 l5.3,-3.2 M447.8,148.8 l5.3,-3.2 M449.3,151.5 l5.3,-3.2 M450.8,154.2 l5.3,-3.2 M452.3,156.9 l5.3,-3.2 M453.6,159.7 l5.3,-3.2 M454.9,162.5 l5.3,-3.2 M456.2,165.3 l5.3,-3.2 M457.3,168.1 l5.3,-3.2 M458.4,170.9 l5.3,-3.2 M459.4,173.7 l5.3,-3.2 M460.3,176.5 l5.3,-3.2 M461.1,179.3 l5.3,-3.2 M461.9,182.1 l5.3,-3.2 M462.6,184.9 l5.3,-3.2 M463.2,187.7 l5.3,-3.2 M463.7,190.4 l5.3,-3.2 M464.1,193.1 l5.3,-3.2 M464.4,195.8 l5.3,-3.2 M464.7,198.4 l5.3,-3.2 M464.8,201.1 l5.3,-3.2 M464.9,203.6 l5.3,-3.2 M464.9,206.1 l5.3,-3.2 M464.8,208.6 l5.3,-3.2 M464.6,211 l5.3,-3.2 M464.3,213.3 l5.3,-3.2 M464,215.6 l5.3,-3.2 M463.5,217.8 l5.3,-3.2 M463,220 l5.3,-3.2 M462.4,222.1 l5.3,-3.2 M461.7,224.1 l5.3,-3.2 M460.9,226 l5.3,-3.2 M460,227.8 l5.3,-3.2 M459.1,229.6 l5.3,-3.2 M458.1,231.2 l5.3,-3.2 M456.9,232.8 l5.3,-3.2 M455.8,234.3 l5.3,-3.2 M454.5,235.7 l5.3,-3.2 M453.2,237 l5.3,-3.2 M451.8,238.2 l5.3,-3.2 M450.4,239.2 l5.3,-3.2" stroke-width="1.9" fill="none" />
<ellipse cx="408.2" cy="172.6" rx="78.8" ry="46.1" stroke-width="4.03" fill="#fff" transform="rotate(59 408.2 172.6)" />
<ellipse cx="408.2" cy="172.6" rx="79" ry="46.2" stroke-width="1.23" fill="none" transform="rotate(59 408.2 172.6)" stroke="#fff" stroke-dasharray="0.9 1.6" stroke-linecap="butt"/>
<ellipse cx="408.5" cy="172.4" rx="75" ry="43.9" stroke-width="1.12" fill="none" transform="rotate(59 408.5 172.4)" />
<ellipse cx="409" cy="172.1" rx="71.5" ry="41.8" stroke-width="1.46" fill="none" transform="rotate(59 409 172.1)" />
<ellipse cx="408.8" cy="173.2" rx="56.5" ry="33.1" stroke-width="1.46" fill="none" transform="rotate(59 408.8 173.2)" />
<ellipse cx="408.2" cy="172.6" rx="34" ry="19.9" stroke-width="1.46" fill="none" transform="rotate(59 408.2 172.6)" />
<ellipse cx="407.6" cy="173.2" rx="11.8" ry="6.9" stroke-width="2.13" fill="none" transform="rotate(59 407.6 173.2)" />
<ellipse cx="419.2" cy="188.8" rx="3.2" ry="1.9" stroke-width="1.46" fill="none" transform="rotate(59 419.2 188.8)" />
<ellipse cx="408.5" cy="189.5" rx="3.2" ry="1.9" stroke-width="1.46" fill="none" transform="rotate(59 408.5 189.5)" />
<ellipse cx="397.2" cy="177.9" rx="3.2" ry="1.9" stroke-width="1.46" fill="none" transform="rotate(59 397.2 177.9)" />
<ellipse cx="393.8" cy="162.7" rx="3.2" ry="1.9" stroke-width="1.46" fill="none" transform="rotate(59 393.8 162.7)" />
<ellipse cx="400.9" cy="155.3" rx="3.2" ry="1.9" stroke-width="1.46" fill="none" transform="rotate(59 400.9 155.3)" />
<ellipse cx="413.1" cy="161.4" rx="3.2" ry="1.9" stroke-width="1.46" fill="none" transform="rotate(59 413.1 161.4)" />
<ellipse cx="421.2" cy="176.3" rx="3.2" ry="1.9" stroke-width="1.46" fill="none" transform="rotate(59 421.2 176.3)" />
<ellipse cx="398.6" cy="216.5" rx="4.3" ry="5" stroke-width="1.12" fill="#2e2e2e" transform="rotate(-30 398.6 216.5)" />
<ellipse cx="398.6" cy="216.5" rx="2.3" ry="2.9" stroke-width="1.01" fill="none" transform="rotate(-30 398.6 216.5)" stroke="#999" stroke-dasharray="0.8 1.1"/>
<ellipse cx="365.6" cy="162.8" rx="4.3" ry="5" stroke-width="1.12" fill="#2e2e2e" transform="rotate(-30 365.6 162.8)" />
<ellipse cx="365.6" cy="162.8" rx="2.3" ry="2.9" stroke-width="1.01" fill="none" transform="rotate(-30 365.6 162.8)" stroke="#999" stroke-dasharray="0.8 1.1"/>
<ellipse cx="376" cy="118.7" rx="4.3" ry="5" stroke-width="1.12" fill="#2e2e2e" transform="rotate(-30 376 118.7)" />
<ellipse cx="376" cy="118.7" rx="2.3" ry="2.9" stroke-width="1.01" fill="none" transform="rotate(-30 376 118.7)" stroke="#999" stroke-dasharray="0.8 1.1"/>
<ellipse cx="419.4" cy="128.3" rx="4.3" ry="5" stroke-width="1.12" fill="#2e2e2e" transform="rotate(-30 419.4 128.3)" />
<ellipse cx="419.4" cy="128.3" rx="2.3" ry="2.9" stroke-width="1.01" fill="none" transform="rotate(-30 419.4 128.3)" stroke="#999" stroke-dasharray="0.8 1.1"/>
<ellipse cx="452.4" cy="182" rx="4.3" ry="5" stroke-width="1.12" fill="#2e2e2e" transform="rotate(-30 452.4 182)" />
<ellipse cx="452.4" cy="182" rx="2.3" ry="2.9" stroke-width="1.01" fill="none" transform="rotate(-30 452.4 182)" stroke="#999" stroke-dasharray="0.8 1.1"/>
<ellipse cx="442" cy="226.1" rx="4.3" ry="5" stroke-width="1.12" fill="#2e2e2e" transform="rotate(-30 442 226.1)" />
<ellipse cx="442" cy="226.1" rx="2.3" ry="2.9" stroke-width="1.01" fill="none" transform="rotate(-30 442 226.1)" stroke="#999" stroke-dasharray="0.8 1.1"/>
</g>
<line x1="440.1" y1="246.6" x2="440.1" y2="276" stroke-width="1.68" />
<text x="407.1" y="295.7" font-size="17.6" textLength="66.6" lengthAdjust="spacingAndGlyphs" >03030A</text>
<text x="325.1" y="276" font-size="17.6" textLength="54.4" lengthAdjust="spacingAndGlyphs" >03078</text>
<line x1="352.3" y1="235" x2="352.3" y2="257.6" stroke-width="1.68" />
<text x="440.5" y="69.4" font-size="17.6" textLength="54.6" lengthAdjust="spacingAndGlyphs" >03078</text>
<line x1="467.2" y1="74.6" x2="467.2" y2="106" stroke-width="1.68" />
<text x="512" y="56.2" font-size="17.6" textLength="53.7" lengthAdjust="spacingAndGlyphs" >03797</text>
<line x1="538.5" y1="62.2" x2="538.5" y2="85.5" stroke-width="1.68" />
<text x="487.5" y="181.7" font-size="17.6" textLength="64.4" lengthAdjust="spacingAndGlyphs" >03078P</text>
<line x1="519.2" y1="136.6" x2="519.2" y2="165.6" stroke-width="1.68" />
<text y="73.6" font-size="16.6"><tspan x="365.3" font-size="18" dy="0.6" style="stroke-width:0.1px">(</tspan><tspan x="369.9" dy="-0.6">M</tspan></text>
<text transform="translate(382.1,75) skewX(-36)" font-size="18.4" style="stroke-width:0.25px">/</text>
<text y="73.6" font-size="16.6"><tspan x="397.1">T</tspan><tspan x="407.1" font-size="18" dy="0.6" style="stroke-width:0.1px">)</tspan></text>
<ellipse cx="348.3" cy="206.9" rx="28.7" ry="17.8" stroke-width="1.57" fill="#fff" transform="rotate(62 348.3 206.9)" />
<ellipse cx="348.3" cy="206.9" rx="12.9" ry="8" stroke-width="1.57" fill="none" transform="rotate(62 348.3 206.9)" />
<ellipse cx="358.7" cy="222.4" rx="3" ry="1.9" stroke-width="1.46" fill="none" transform="rotate(62 358.7 222.4)" />
<ellipse cx="348" cy="222.9" rx="3" ry="1.9" stroke-width="1.46" fill="none" transform="rotate(62 348 222.9)" />
<ellipse cx="337.5" cy="211.4" rx="3" ry="1.9" stroke-width="1.46" fill="none" transform="rotate(62 337.5 211.4)" />
<ellipse cx="335.2" cy="196.5" rx="3" ry="1.9" stroke-width="1.46" fill="none" transform="rotate(62 335.2 196.5)" />
<ellipse cx="342.7" cy="189.4" rx="3" ry="1.9" stroke-width="1.46" fill="none" transform="rotate(62 342.7 189.4)" />
<ellipse cx="354.5" cy="195.5" rx="3" ry="1.9" stroke-width="1.46" fill="none" transform="rotate(62 354.5 195.5)" />
<ellipse cx="361.6" cy="210.2" rx="3" ry="1.9" stroke-width="1.46" fill="none" transform="rotate(62 361.6 210.2)" />
<ellipse cx="348.2" cy="191.3" rx="1.1" ry="0.7" stroke-width="1.68" fill="none" transform="rotate(62 348.2 191.3)" />
<ellipse cx="478.2" cy="132.6" rx="29.4" ry="18.2" stroke-width="1.57" fill="#fff" transform="rotate(62 478.2 132.6)" />
<ellipse cx="478.2" cy="132.6" rx="13.2" ry="8.2" stroke-width="1.57" fill="none" transform="rotate(62 478.2 132.6)" />
<ellipse cx="488.8" cy="148.5" rx="3.1" ry="1.9" stroke-width="1.46" fill="none" transform="rotate(62 488.8 148.5)" />
<ellipse cx="477.9" cy="149" rx="3.1" ry="1.9" stroke-width="1.46" fill="none" transform="rotate(62 477.9 149)" />
<ellipse cx="467.1" cy="137.2" rx="3.1" ry="1.9" stroke-width="1.46" fill="none" transform="rotate(62 467.1 137.2)" />
<ellipse cx="464.7" cy="121.9" rx="3.1" ry="1.9" stroke-width="1.46" fill="none" transform="rotate(62 464.7 121.9)" />
<ellipse cx="472.5" cy="114.7" rx="3.1" ry="1.9" stroke-width="1.46" fill="none" transform="rotate(62 472.5 114.7)" />
<ellipse cx="484.5" cy="121" rx="3.1" ry="1.9" stroke-width="1.46" fill="none" transform="rotate(62 484.5 121)" />
<ellipse cx="491.8" cy="136" rx="3.1" ry="1.9" stroke-width="1.46" fill="none" transform="rotate(62 491.8 136)" />
<ellipse cx="478.1" cy="116.6" rx="1.2" ry="0.7" stroke-width="1.68" fill="none" transform="rotate(62 478.1 116.6)" />
<g id="w78p">
<ellipse cx="511.8" cy="113.6" rx="25.5" ry="15.6" stroke-width="1.57" fill="#fff" transform="rotate(62 511.8 113.6)" />
<ellipse cx="511.8" cy="113.6" rx="11.2" ry="6.8" stroke-width="1.57" fill="none" transform="rotate(62 511.8 113.6)" />
<ellipse cx="521" cy="127.4" rx="2.7" ry="1.6" stroke-width="1.46" fill="none" transform="rotate(62 521 127.4)" />
<ellipse cx="511.6" cy="127.8" rx="2.7" ry="1.6" stroke-width="1.46" fill="none" transform="rotate(62 511.6 127.8)" />
<ellipse cx="502.3" cy="117.5" rx="2.7" ry="1.6" stroke-width="1.46" fill="none" transform="rotate(62 502.3 117.5)" />
<ellipse cx="500.2" cy="104.3" rx="2.7" ry="1.6" stroke-width="1.46" fill="none" transform="rotate(62 500.2 104.3)" />
<ellipse cx="506.8" cy="98.1" rx="2.7" ry="1.6" stroke-width="1.46" fill="none" transform="rotate(62 506.8 98.1)" />
<ellipse cx="517.2" cy="103.6" rx="2.7" ry="1.6" stroke-width="1.46" fill="none" transform="rotate(62 517.2 103.6)" />
<ellipse cx="523.5" cy="116.6" rx="2.7" ry="1.6" stroke-width="1.46" fill="none" transform="rotate(62 523.5 116.6)" />
<ellipse cx="511.8" cy="113.6" rx="4.6" ry="2.8" stroke-width="1.34" fill="none" transform="rotate(62 511.8 113.6)" />
<ellipse cx="511.8" cy="113.6" rx="2.2" ry="1.3" stroke-width="1.79" fill="#555" transform="rotate(62 511.8 113.6)" />
</g>
<g transform="translate(534.2,93.6)">
<path d="M-8.6,1.6 Q-9.6,4.6 -7.2,7 L-0.4,3.8 L-2.4,-1.6 Z" stroke-width="1.34" fill="#4a4a4a" />
<line x1="-7.2" y1="0.6" x2="-5.4" y2="5.8" stroke-width="0.9" stroke="#000"/>
<line x1="-5.6" y1="-0.2" x2="-3.8" y2="5" stroke-width="0.9" stroke="#000"/>
<line x1="-4" y1="-1" x2="-2.2" y2="4.2" stroke-width="0.9" stroke="#000"/>
<line x1="-2.4" y1="-1.8" x2="-0.6" y2="3.4" stroke-width="0.9" stroke="#000"/>
<path d="M-2.6,-4.2 Q0.6,-8 5.2,-7.6 Q9,-6 9.2,-2 Q8.6,2.6 5.6,4.6 Q1.6,5.8 -0.6,3.4 Q-3,0.2 -2.6,-4.2 Z" stroke-width="1.46" fill="#fff" />
<path d="M-0.4,-5.6 Q2.4,-2.6 1.8,3.6 M1.8,-6.8 Q4.6,-3.2 4,4.4" stroke-width="1.34" fill="none" />
<path d="M-2.2,-2.2 Q0,-3.4 1.6,-2.2 M-1.6,1.2 Q0.2,0.2 1.8,1" stroke-width="1.12" fill="none" />
</g>
<g id="driveplate">
<path d="M459.2,561.1 l5.2,-3 M457.3,562 l5.2,-3 M455.4,562.7 l5.2,-3 M453.3,563.3 l5.2,-3 M451.3,563.8 l5.2,-3 M449.2,564.1 l5.2,-3 M447,564.3 l5.2,-3 M444.7,564.3 l5.2,-3 M442.5,564.2 l5.2,-3 M440.2,563.9 l5.2,-3 M437.8,563.5 l5.2,-3 M435.5,563 l5.2,-3 M433.1,562.3 l5.2,-3 M430.6,561.4 l5.2,-3 M428.2,560.4 l5.2,-3 M425.8,559.3 l5.2,-3 M423.3,558.1 l5.2,-3 M420.9,556.7 l5.2,-3 M418.4,555.2 l5.2,-3 M416,553.5 l5.2,-3 M413.6,551.8 l5.2,-3 M411.2,549.9 l5.2,-3 M408.8,547.9 l5.2,-3 M406.5,545.8 l5.2,-3 M404.2,543.5 l5.2,-3 M401.9,541.2 l5.2,-3 M399.7,538.8 l5.2,-3 M397.5,536.2 l5.2,-3 M395.3,533.6 l5.2,-3 M393.3,530.9 l5.2,-3 M391.3,528.2 l5.2,-3 M389.3,525.3 l5.2,-3 M387.4,522.4 l5.2,-3 M385.6,519.4 l5.2,-3 M383.9,516.4 l5.2,-3 M382.2,513.3 l5.2,-3 M380.7,510.2 l5.2,-3 M379.2,507.1 l5.2,-3 M377.8,503.9 l5.2,-3 M376.5,500.6 l5.2,-3 M375.2,497.4 l5.2,-3 M374.1,494.2 l5.2,-3 M373.1,490.9 l5.2,-3 M372.2,487.7 l5.2,-3 M371.4,484.5 l5.2,-3 M370.7,481.2 l5.2,-3 M370.1,478 l5.2,-3 M369.6,474.9 l5.2,-3 M369.2,471.7 l5.2,-3 M368.9,468.6 l5.2,-3 M368.7,465.6 l5.2,-3 M368.7,462.6 l5.2,-3 M368.7,459.7 l5.2,-3 M368.9,456.8 l5.2,-3 M369.2,454 l5.2,-3 M369.5,451.3 l5.2,-3 M370,448.6 l5.2,-3 M370.6,446.1 l5.2,-3 M371.3,443.6 l5.2,-3 M372.1,441.3 l5.2,-3 M373,439 l5.2,-3 M374,436.8 l5.2,-3 M375.1,434.8 l5.2,-3 M376.3,432.9 l5.2,-3 M377.6,431.1 l5.2,-3 M379,429.4 l5.2,-3 M380.5,427.8 l5.2,-3 M382.1,426.4 l5.2,-3 M383.7,425.1 l5.2,-3 M385.4,423.9 l5.2,-3 M387.2,422.9 l5.2,-3 M389.1,422 l5.2,-3 M391,421.3 l5.2,-3 M393.1,420.7 l5.2,-3 M395.1,420.2 l5.2,-3 M397.2,419.9 l5.2,-3 M399.4,419.7 l5.2,-3 M401.7,419.7 l5.2,-3 M403.9,419.8 l5.2,-3 M406.2,420.1 l5.2,-3 M408.6,420.5 l5.2,-3 M410.9,421 l5.2,-3 M413.3,421.7 l5.2,-3 M415.8,422.6 l5.2,-3 M418.2,423.6 l5.2,-3 M420.6,424.7 l5.2,-3 M423.1,425.9 l5.2,-3 M425.5,427.3 l5.2,-3 M428,428.8 l5.2,-3 M430.4,430.5 l5.2,-3 M432.8,432.2 l5.2,-3 M435.2,434.1 l5.2,-3 M437.6,436.1 l5.2,-3 M439.9,438.2 l5.2,-3 M442.2,440.5 l5.2,-3 M444.5,442.8 l5.2,-3 M446.7,445.2 l5.2,-3 M448.9,447.8 l5.2,-3 M451.1,450.4 l5.2,-3 M453.1,453.1 l5.2,-3 M455.1,455.8 l5.2,-3 M457.1,458.7 l5.2,-3 M459,461.6 l5.2,-3 M460.8,464.6 l5.2,-3 M462.5,467.6 l5.2,-3 M464.2,470.7 l5.2,-3 M465.7,473.8 l5.2,-3 M467.2,476.9 l5.2,-3 M468.6,480.1 l5.2,-3 M469.9,483.4 l5.2,-3 M471.2,486.6 l5.2,-3 M472.3,489.8 l5.2,-3 M473.3,493.1 l5.2,-3 M474.2,496.3 l5.2,-3 M475,499.5 l5.2,-3 M475.7,502.8 l5.2,-3 M476.3,506 l5.2,-3 M476.8,509.1 l5.2,-3 M477.2,512.3 l5.2,-3 M477.5,515.4 l5.2,-3 M477.7,518.4 l5.2,-3 M477.7,521.4 l5.2,-3 M477.7,524.3 l5.2,-3 M477.5,527.2 l5.2,-3 M477.2,530 l5.2,-3 M476.9,532.7 l5.2,-3 M476.4,535.4 l5.2,-3 M475.8,537.9 l5.2,-3 M475.1,540.4 l5.2,-3 M474.3,542.7 l5.2,-3 M473.4,545 l5.2,-3 M472.4,547.2 l5.2,-3 M471.3,549.2 l5.2,-3 M470.1,551.1 l5.2,-3 M468.8,552.9 l5.2,-3 M467.4,554.6 l5.2,-3 M465.9,556.2 l5.2,-3 M464.3,557.6 l5.2,-3 M462.7,558.9 l5.2,-3 M461,560.1 l5.2,-3" stroke-width="1.79" fill="none" />
<ellipse cx="423.2" cy="492" rx="77.8" ry="46.1" stroke-width="3.81" fill="#fff" transform="rotate(62.5 423.2 492)" />
<ellipse cx="423.2" cy="492" rx="78" ry="46.3" stroke-width="1.34" fill="none" transform="rotate(62.5 423.2 492)" stroke="#fff" stroke-dasharray="1.0 1.5" stroke-linecap="butt"/>
<ellipse cx="423.2" cy="492" rx="73.6" ry="43.6" stroke-width="1.12" fill="none" transform="rotate(62.5 423.2 492)" />
<ellipse cx="422.9" cy="492.2" rx="70" ry="41.5" stroke-width="1.23" fill="none" transform="rotate(62.5 422.9 492.2)" />
<path d="M453.6,550.4 C452.7,550.7 451.8,550.9 450.9,551 C449.9,551.1 448.9,551.1 447.9,551 C446.9,551 445.9,550.8 444.9,550.6 C443.8,550.3 442.8,550 441.8,549.6 C440.7,549.2 439.7,548.8 438.6,548.3 C437.6,547.9 436.6,547.3 435.6,546.8 C434.6,546.3 433.6,545.7 432.6,545.2 C431.6,544.6 430.6,544.1 429.7,543.5 C428.7,543 427.8,542.4 426.9,541.9 C425.9,541.4 425,540.8 424.1,540.3 C423.2,539.8 422.2,539.4 421.3,538.9 C420.4,538.4 419.5,537.9 418.5,537.5 C417.6,537 416.6,536.5 415.7,536.1 C414.7,535.6 413.7,535.1 412.7,534.6 C411.7,534 410.7,533.5 409.7,532.9 C408.7,532.3 407.6,531.7 406.6,531 C405.6,530.3 404.5,529.6 403.5,528.8 C402.4,528 401.4,527.1 400.3,526.2 C399.3,525.2 398.3,524.2 397.3,523.2 C396.4,522.1 395.4,521 394.5,519.8 C393.6,518.6 392.7,517.4 391.9,516.1 C391.1,514.8 390.3,513.4 389.6,512.1 C388.9,510.7 388.2,509.3 387.7,507.9 C387.1,506.5 386.6,505.1 386.1,503.7 C385.7,502.2 385.3,500.8 385,499.4 C384.6,498 384.4,496.6 384.2,495.2 C384,493.8 383.8,492.5 383.7,491.2 C383.6,489.8 383.5,488.5 383.5,487.3 C383.4,486 383.4,484.8 383.4,483.6 C383.5,482.4 383.5,481.2 383.5,480.1 C383.5,478.9 383.6,477.8 383.6,476.7 C383.6,475.5 383.6,474.4 383.6,473.3 C383.7,472.2 383.7,471.1 383.6,470 C383.6,468.8 383.6,467.7 383.6,466.6 C383.6,465.4 383.5,464.3 383.5,463.1 C383.4,461.9 383.4,460.7 383.4,459.5 C383.4,458.3 383.3,457.1 383.3,455.9 C383.3,454.7 383.4,453.4 383.4,452.2 C383.5,451 383.6,449.8 383.7,448.6 C383.9,447.4 384.1,446.3 384.3,445.1 C384.6,444 384.9,442.9 385.3,441.9 C385.6,440.9 386.1,440 386.6,439.1 C387.1,438.2 387.7,437.4 388.3,436.7 C388.9,436 389.6,435.4 390.4,434.9 C391.1,434.3 392,433.9 392.8,433.6 C393.7,433.3 394.6,433.1 395.5,433 C396.5,432.9 397.5,432.9 398.5,433 C399.5,433 400.5,433.2 401.5,433.4 C402.6,433.7 403.6,434 404.6,434.4 C405.7,434.8 406.7,435.2 407.8,435.7 C408.8,436.1 409.8,436.7 410.8,437.2 C411.8,437.7 412.8,438.3 413.8,438.8 C414.8,439.4 415.8,439.9 416.7,440.5 C417.7,441 418.6,441.6 419.5,442.1 C420.5,442.6 421.4,443.2 422.3,443.7 C423.2,444.2 424.2,444.6 425.1,445.1 C426,445.6 426.9,446.1 427.9,446.5 C428.8,447 429.8,447.5 430.7,447.9 C431.7,448.4 432.7,448.9 433.7,449.4 C434.7,450 435.7,450.5 436.7,451.1 C437.7,451.7 438.8,452.3 439.8,453 C440.8,453.7 441.9,454.4 442.9,455.2 C444,456 445,456.9 446.1,457.8 C447.1,458.8 448.1,459.8 449.1,460.8 C450,461.9 451,463 451.9,464.2 C452.8,465.4 453.7,466.6 454.5,467.9 C455.3,469.2 456.1,470.6 456.8,471.9 C457.5,473.3 458.2,474.7 458.7,476.1 C459.3,477.5 459.8,478.9 460.3,480.3 C460.7,481.8 461.1,483.2 461.4,484.6 C461.8,486 462,487.4 462.2,488.8 C462.4,490.2 462.6,491.5 462.7,492.8 C462.8,494.2 462.9,495.5 462.9,496.7 C463,498 463,499.2 463,500.4 C462.9,501.6 462.9,502.8 462.9,503.9 C462.9,505.1 462.8,506.2 462.8,507.3 C462.8,508.5 462.8,509.6 462.8,510.7 C462.7,511.8 462.7,512.9 462.8,514 C462.8,515.2 462.8,516.3 462.8,517.4 C462.8,518.6 462.9,519.7 462.9,520.9 C463,522.1 463,523.3 463,524.5 C463,525.7 463.1,526.9 463.1,528.1 C463.1,529.3 463,530.6 463,531.8 C462.9,533 462.8,534.2 462.7,535.4 C462.5,536.6 462.3,537.7 462.1,538.9 C461.8,540 461.5,541.1 461.1,542.1 C460.8,543.1 460.3,544 459.8,544.9 C459.3,545.8 458.7,546.6 458.1,547.3 C457.5,548 456.8,548.6 456,549.1 C455.3,549.7 454.4,550.1 453.6,550.4 Z" stroke-width="1.23" fill="none" />
<path d="M452,547.3 C451.2,547.6 450.3,547.8 449.4,547.8 C448.5,547.9 447.6,547.9 446.6,547.8 C445.6,547.8 444.7,547.6 443.7,547.3 C442.7,547.1 441.7,546.7 440.7,546.4 C439.7,546 438.7,545.5 437.7,545.1 C436.8,544.6 435.8,544.1 434.8,543.6 C433.9,543.1 432.9,542.5 432,542 C431.1,541.5 430.2,540.9 429.3,540.4 C428.4,539.8 427.5,539.3 426.6,538.8 C425.8,538.3 424.9,537.8 424,537.4 C423.2,536.9 422.3,536.4 421.4,536 C420.6,535.5 419.7,535.1 418.8,534.7 C417.9,534.3 417,533.8 416.1,533.4 C415.2,533 414.3,532.5 413.4,532 C412.4,531.6 411.5,531.1 410.5,530.5 C409.5,530 408.5,529.4 407.5,528.8 C406.6,528.1 405.6,527.5 404.6,526.7 C403.6,526 402.6,525.2 401.6,524.3 C400.6,523.4 399.7,522.5 398.7,521.5 C397.8,520.5 396.9,519.4 396,518.3 C395.2,517.2 394.3,516 393.5,514.8 C392.8,513.6 392,512.3 391.4,511 C390.7,509.7 390.1,508.4 389.6,507.1 C389,505.7 388.5,504.4 388.1,503 C387.7,501.7 387.4,500.3 387.1,499 C386.8,497.7 386.5,496.3 386.4,495 C386.2,493.7 386.1,492.5 386,491.2 C385.9,490 385.8,488.7 385.8,487.6 C385.8,486.4 385.8,485.2 385.8,484.1 C385.8,483 385.9,481.9 385.9,480.8 C385.9,479.7 386,478.6 386,477.6 C386,476.5 386.1,475.5 386.1,474.5 C386.1,473.4 386.1,472.4 386.1,471.3 C386.1,470.3 386.1,469.2 386,468.1 C386,467.1 385.9,466 385.9,464.9 C385.9,463.7 385.8,462.6 385.8,461.5 C385.7,460.3 385.7,459.2 385.7,458 C385.7,456.9 385.7,455.7 385.7,454.5 C385.8,453.4 385.8,452.2 386,451.1 C386.1,449.9 386.2,448.8 386.5,447.7 C386.7,446.7 387,445.6 387.3,444.6 C387.7,443.7 388.1,442.8 388.5,441.9 C389,441.1 389.5,440.3 390.1,439.6 C390.7,439 391.4,438.4 392.1,437.9 C392.8,437.4 393.6,437 394.4,436.7 C395.2,436.4 396.1,436.2 397,436.2 C397.9,436.1 398.8,436.1 399.8,436.2 C400.8,436.2 401.7,436.4 402.7,436.7 C403.7,436.9 404.7,437.3 405.7,437.6 C406.7,438 407.7,438.5 408.7,438.9 C409.6,439.4 410.6,439.9 411.6,440.4 C412.5,440.9 413.5,441.5 414.4,442 C415.3,442.5 416.2,443.1 417.1,443.6 C418,444.2 418.9,444.7 419.8,445.2 C420.6,445.7 421.5,446.2 422.4,446.6 C423.2,447.1 424.1,447.6 425,448 C425.8,448.5 426.7,448.9 427.6,449.3 C428.5,449.7 429.4,450.2 430.3,450.6 C431.2,451 432.1,451.5 433,452 C434,452.4 434.9,452.9 435.9,453.5 C436.9,454 437.9,454.6 438.9,455.2 C439.8,455.9 440.8,456.5 441.8,457.3 C442.8,458 443.8,458.8 444.8,459.7 C445.8,460.6 446.7,461.5 447.7,462.5 C448.6,463.5 449.5,464.6 450.4,465.7 C451.2,466.8 452.1,468 452.9,469.2 C453.6,470.4 454.4,471.7 455,473 C455.7,474.3 456.3,475.6 456.8,476.9 C457.4,478.3 457.9,479.6 458.3,481 C458.7,482.3 459,483.7 459.3,485 C459.6,486.3 459.9,487.7 460,489 C460.2,490.3 460.3,491.5 460.4,492.8 C460.5,494 460.6,495.3 460.6,496.4 C460.6,497.6 460.6,498.8 460.6,499.9 C460.6,501 460.5,502.1 460.5,503.2 C460.5,504.3 460.4,505.4 460.4,506.4 C460.4,507.5 460.3,508.5 460.3,509.5 C460.3,510.6 460.3,511.6 460.3,512.7 C460.3,513.7 460.3,514.8 460.4,515.9 C460.4,516.9 460.5,518 460.5,519.1 C460.5,520.3 460.6,521.4 460.6,522.5 C460.7,523.7 460.7,524.8 460.7,526 C460.7,527.1 460.7,528.3 460.7,529.5 C460.6,530.6 460.6,531.8 460.4,532.9 C460.3,534.1 460.2,535.2 459.9,536.3 C459.7,537.3 459.4,538.4 459.1,539.4 C458.7,540.3 458.3,541.2 457.9,542.1 C457.4,542.9 456.9,543.7 456.3,544.4 C455.7,545 455,545.6 454.3,546.1 C453.6,546.6 452.8,547 452,547.3 Z" stroke-width="1.12" fill="none" />
<path d="M441.6,559.3 C442.1,560.7 439,559 438.1,558.9 C437.3,558.7 435.4,558.3 434.5,558.1 C433.7,557.9 431.7,557.3 430.9,557 C430,556.7 428,555.9 427.2,555.5 C426.3,555.1 424.3,554.1 423.4,553.6 C422.6,553.2 420.6,552 419.7,551.5 C418.9,550.9 416.9,549.6 416,549 C415.2,548.4 413.2,546.9 412.4,546.2 C411.5,545.5 409.6,543.9 408.7,543.1 C407.9,542.4 404.8,540.7 405.2,539.8 C405.7,538.9 411,536 412.5,535.4 C414,534.8 416.2,534 418.1,534.6 C420,535.1 426.8,538.8 428.6,540.2 C430.5,541.7 432.7,544.8 434.3,547 C435.8,549.3 441.2,557.9 441.6,559.3 Z" stroke-width="1.34" fill="#fff" />
<ellipse cx="423.4" cy="546.8" rx="2.9" ry="1.7" stroke-width="1.23" fill="none" transform="rotate(62.5 423.4 546.8)" />
<path d="M375.9,488.7 C374.9,488.7 374.9,484.9 374.6,483.7 C374.4,482.6 373.9,480 373.7,478.9 C373.5,477.7 373.1,475.2 373,474.1 C372.8,472.9 372.6,470.4 372.5,469.3 C372.5,468.3 372.4,465.8 372.4,464.8 C372.4,463.7 372.4,461.3 372.5,460.3 C372.6,459.3 372.8,457 372.9,456 C373,455.1 373.4,452.9 373.6,452 C373.7,451 374.2,449 374.5,448.1 C374.7,447.2 374.7,443.4 375.7,444.5 C376.6,445.5 381.4,454.6 382.6,457.1 C383.8,459.5 385.4,463.1 385.7,465.6 C386.1,468 386.2,476.2 385.8,478.3 C385.4,480.4 383.8,482.2 382.7,483.4 C381.5,484.6 376.8,488.6 375.9,488.7 Z" stroke-width="1.34" fill="#fff" />
<ellipse cx="378.1" cy="467.8" rx="2.9" ry="1.7" stroke-width="1.23" fill="none" transform="rotate(62.5 378.1 467.8)" />
<path d="M404.8,424.7 C404.3,423.3 407.4,425 408.3,425.1 C409.1,425.3 411,425.7 411.9,425.9 C412.7,426.1 414.7,426.7 415.5,427 C416.4,427.3 418.4,428.1 419.2,428.5 C420.1,428.9 422.1,429.9 423,430.4 C423.8,430.8 425.8,432 426.7,432.5 C427.5,433.1 429.5,434.4 430.4,435 C431.2,435.6 433.2,437.1 434,437.8 C434.9,438.5 436.8,440.1 437.7,440.9 C438.5,441.6 441.6,443.3 441.2,444.2 C440.7,445.1 435.4,448 433.9,448.6 C432.4,449.2 430.2,450 428.3,449.4 C426.4,448.9 419.6,445.2 417.8,443.8 C415.9,442.3 413.7,439.2 412.1,437 C410.6,434.7 405.2,426.1 404.8,424.7 Z" stroke-width="1.34" fill="#fff" />
<ellipse cx="423" cy="437.2" rx="2.9" ry="1.7" stroke-width="1.23" fill="none" transform="rotate(62.5 423 437.2)" />
<path d="M470.5,495.3 C471.5,495.3 471.5,499.1 471.8,500.3 C472,501.4 472.5,504 472.7,505.1 C472.9,506.3 473.3,508.8 473.4,509.9 C473.6,511.1 473.8,513.6 473.9,514.7 C473.9,515.7 474,518.2 474,519.2 C474,520.3 474,522.7 473.9,523.7 C473.8,524.7 473.6,527 473.5,528 C473.4,528.9 473,531.1 472.8,532 C472.7,533 472.2,535 471.9,535.9 C471.7,536.8 471.7,540.6 470.7,539.5 C469.8,538.5 465,529.4 463.8,526.9 C462.6,524.5 461,520.9 460.7,518.4 C460.3,516 460.2,507.8 460.6,505.7 C461,503.6 462.6,501.8 463.7,500.6 C464.9,499.4 469.6,495.4 470.5,495.3 Z" stroke-width="1.34" fill="#fff" />
<ellipse cx="468.3" cy="516.2" rx="2.9" ry="1.7" stroke-width="1.23" fill="none" transform="rotate(62.5 468.3 516.2)" />
<ellipse cx="403.9" cy="518.3" rx="4.7" ry="2.8" stroke-width="1.23" fill="#fff" transform="rotate(62.5 403.9 518.3)" />
<ellipse cx="392.4" cy="498" rx="4.7" ry="2.8" stroke-width="1.23" fill="#fff" transform="rotate(62.5 392.4 498)" />
<line x1="392.5" y1="453.8" x2="404.1" y2="446.1" stroke-width="4.7" />
<line x1="392.5" y1="453.8" x2="404.1" y2="446.1" stroke-width="2.24" stroke="#fff"/>
<ellipse cx="392.5" cy="453.8" rx="4.7" ry="2.8" stroke-width="1.23" fill="#fff" transform="rotate(62.5 392.5 453.8)" />
<ellipse cx="404.1" cy="446.1" rx="4.7" ry="2.8" stroke-width="1.23" fill="#fff" transform="rotate(62.5 404.1 446.1)" />
<line x1="392.5" y1="453.8" x2="404.1" y2="446.1" stroke-width="2.13" stroke="#fff"/>
<ellipse cx="440.7" cy="466.1" rx="4.7" ry="2.8" stroke-width="1.23" fill="#fff" transform="rotate(62.5 440.7 466.1)" />
<ellipse cx="452.2" cy="486.4" rx="4.7" ry="2.8" stroke-width="1.23" fill="#fff" transform="rotate(62.5 452.2 486.4)" />
<line x1="452.1" y1="530.6" x2="440.5" y2="538.3" stroke-width="4.7" />
<line x1="452.1" y1="530.6" x2="440.5" y2="538.3" stroke-width="2.24" stroke="#fff"/>
<ellipse cx="452.1" cy="530.6" rx="4.7" ry="2.8" stroke-width="1.23" fill="#fff" transform="rotate(62.5 452.1 530.6)" />
<ellipse cx="440.5" cy="538.3" rx="4.7" ry="2.8" stroke-width="1.23" fill="#fff" transform="rotate(62.5 440.5 538.3)" />
<line x1="452.1" y1="530.6" x2="440.5" y2="538.3" stroke-width="2.13" stroke="#fff"/>
<ellipse cx="423.9" cy="490.6" rx="32" ry="19" stroke-width="1.34" fill="none" transform="rotate(62.5 423.9 490.6)" />
<ellipse cx="423.7" cy="490.8" rx="30" ry="17.8" stroke-width="1.12" fill="none" transform="rotate(62.5 423.7 490.8)" />
<ellipse cx="422.3" cy="492.2" rx="12.3" ry="7.3" stroke-width="2.02" fill="none" transform="rotate(62.5 422.3 492.2)" />
<ellipse cx="433.1" cy="507.8" rx="3.1" ry="1.8" stroke-width="1.46" fill="none" transform="rotate(62.5 433.1 507.8)" />
<ellipse cx="422.7" cy="508.8" rx="3.1" ry="1.8" stroke-width="1.46" fill="none" transform="rotate(62.5 422.7 508.8)" />
<ellipse cx="412" cy="497.2" rx="3.1" ry="1.8" stroke-width="1.46" fill="none" transform="rotate(62.5 412 497.2)" />
<ellipse cx="409" cy="481.9" rx="3.1" ry="1.8" stroke-width="1.46" fill="none" transform="rotate(62.5 409 481.9)" />
<ellipse cx="416" cy="474.3" rx="3.1" ry="1.8" stroke-width="1.46" fill="none" transform="rotate(62.5 416 474.3)" />
<ellipse cx="427.8" cy="480.2" rx="3.1" ry="1.8" stroke-width="1.46" fill="none" transform="rotate(62.5 427.8 480.2)" />
<ellipse cx="435.4" cy="495.1" rx="3.1" ry="1.8" stroke-width="1.46" fill="none" transform="rotate(62.5 435.4 495.1)" />
</g>
<text y="358" font-size="16.6"><tspan x="372.4" font-size="18" dy="0.6" style="stroke-width:0.1px">(</tspan><tspan x="378.6" dy="-0.6">A</tspan></text>
<text transform="translate(389.2,359.4) skewX(-36)" font-size="18.4" style="stroke-width:0.25px">/</text>
<text y="358" font-size="16.6"><tspan x="404.2">T</tspan><tspan x="414.2" font-size="18" dy="0.6" style="stroke-width:0.1px">)</tspan></text>
<text x="377.3" y="388.5" font-size="17.6" textLength="52.7" lengthAdjust="spacingAndGlyphs" >27012</text>
<line x1="403.5" y1="393.2" x2="403.5" y2="415.2" stroke-width="1.68" />
<text x="461.1" y="395.8" font-size="17.6" textLength="53.8" lengthAdjust="spacingAndGlyphs" >27013</text>
<line x1="489.1" y1="400.4" x2="489.1" y2="423.4" stroke-width="1.68" />
<ellipse cx="494.1" cy="449.8" rx="28.6" ry="17.7" stroke-width="1.57" fill="#fff" transform="rotate(62 494.1 449.8)" />
<ellipse cx="494.1" cy="449.8" rx="13.4" ry="8.3" stroke-width="1.57" fill="none" transform="rotate(62 494.1 449.8)" />
<ellipse cx="504.5" cy="465.2" rx="3" ry="1.9" stroke-width="1.46" fill="none" transform="rotate(62 504.5 465.2)" />
<ellipse cx="493.8" cy="465.7" rx="3" ry="1.9" stroke-width="1.46" fill="none" transform="rotate(62 493.8 465.7)" />
<ellipse cx="483.3" cy="454.2" rx="3" ry="1.9" stroke-width="1.46" fill="none" transform="rotate(62 483.3 454.2)" />
<ellipse cx="481" cy="439.4" rx="3" ry="1.9" stroke-width="1.46" fill="none" transform="rotate(62 481 439.4)" />
<ellipse cx="488.5" cy="432.4" rx="3" ry="1.9" stroke-width="1.46" fill="none" transform="rotate(62 488.5 432.4)" />
<ellipse cx="500.3" cy="438.5" rx="3" ry="1.9" stroke-width="1.46" fill="none" transform="rotate(62 500.3 438.5)" />
<ellipse cx="507.3" cy="453.1" rx="3" ry="1.9" stroke-width="1.46" fill="none" transform="rotate(62 507.3 453.1)" />
<g transform="translate(529.6,451.6)">
<path d="M-8.6,1.6 Q-9.6,4.6 -7.2,7 L-0.4,3.8 L-2.4,-1.6 Z" stroke-width="1.34" fill="#4a4a4a" />
<line x1="-7.2" y1="0.6" x2="-5.4" y2="5.8" stroke-width="0.9" stroke="#000"/>
<line x1="-5.6" y1="-0.2" x2="-3.8" y2="5" stroke-width="0.9" stroke="#000"/>
<line x1="-4" y1="-1" x2="-2.2" y2="4.2" stroke-width="0.9" stroke="#000"/>
<line x1="-2.4" y1="-1.8" x2="-0.6" y2="3.4" stroke-width="0.9" stroke="#000"/>
<path d="M-2.6,-4.2 Q0.6,-8 5.2,-7.6 Q9,-6 9.2,-2 Q8.6,2.6 5.6,4.6 Q1.6,5.8 -0.6,3.4 Q-3,0.2 -2.6,-4.2 Z" stroke-width="1.46" fill="#fff" />
<path d="M-0.4,-5.6 Q2.4,-2.6 1.8,3.6 M1.8,-6.8 Q4.6,-3.2 4,4.4" stroke-width="1.34" fill="none" />
<path d="M-2.2,-2.2 Q0,-3.4 1.6,-2.2 M-1.6,1.2 Q0.2,0.2 1.8,1" stroke-width="1.12" fill="none" />
</g>
<line x1="532.7" y1="457.2" x2="532.7" y2="485.6" stroke-width="1.68" />
<text x="505.5" y="502.7" font-size="17.6" textLength="53.8" lengthAdjust="spacingAndGlyphs" >03004</text>
<text x="515.4" y="754.9" font-size="12.2" font-weight="bold" letter-spacing="2.45" style="stroke-width:0">F00134</text>
<g id="pulley">
<ellipse cx="134.5" cy="658.8" rx="40.5" ry="26.7" stroke-width="1.46" fill="#fff" transform="rotate(62 134.5 658.8)" />
<ellipse cx="131.1" cy="659.1" rx="40.6" ry="26.8" stroke-width="2.69" fill="#fff" transform="rotate(62 131.1 659.1)" />
<ellipse cx="128.5" cy="659.1" rx="40.8" ry="26.9" stroke-width="1.12" fill="#fff" transform="rotate(62 128.5 659.1)" />
<ellipse cx="125.7" cy="659.5" rx="41" ry="27.1" stroke-width="1.34" fill="#1c1c1c" transform="rotate(62 125.7 659.5)" />
<ellipse cx="121.1" cy="659.9" rx="41" ry="27.1" stroke-width="1.12" fill="#fff" transform="rotate(62 121.1 659.9)" />
<ellipse cx="118.5" cy="660.3" rx="41" ry="27.1" stroke-width="1.57" fill="#fff" transform="rotate(62 118.5 660.3)" />
<ellipse cx="120.1" cy="660.7" rx="33" ry="21.8" stroke-width="1.9" fill="none" transform="rotate(62 120.1 660.7)" />
<ellipse cx="121.1" cy="660.9" rx="30" ry="19.8" stroke-width="1.34" fill="none" transform="rotate(62 121.1 660.9)" />
<ellipse cx="122.7" cy="661.3" rx="26.5" ry="17.5" stroke-width="1.12" fill="none" transform="rotate(62 122.7 661.3)" />
<ellipse cx="131.5" cy="661" rx="5.2" ry="7.8" stroke-width="1.34" fill="none" transform="rotate(-24 131.5 661)" />
<ellipse cx="132.5" cy="660.5" rx="3.6" ry="5.6" stroke-width="1.12" fill="none" transform="rotate(-24 132.5 660.5)" />
<path d="M108.4,645.4 L109.4,658 M110,658.4 L121,657.6 L126.6,652 M112.6,659.6 Q118,668 121.6,677.6 M121.6,677.6 L126,671.6 L127,664.6 M121,657.6 L125,668 M110.4,645 Q118,643.6 124,646.6 M133.6,676 L136.6,681.6 M135,673 L138,679.6" stroke-width="1.12" fill="none" />
</g>
<text x="91.4" y="592" font-size="17.6" textLength="67.1" lengthAdjust="spacingAndGlyphs" >03047Z</text>
<line x1="124.3" y1="595.6" x2="124.3" y2="620.4" stroke-width="1.68" />
<text x="54.6" y="616.8" font-size="17.6" textLength="53.9" lengthAdjust="spacingAndGlyphs" >03782</text>
<line x1="82.4" y1="620.6" x2="82.4" y2="675.6" stroke-width="1.68" />
<text x="23.3" y="662.9" font-size="17.6" textLength="53.4" lengthAdjust="spacingAndGlyphs" >03013</text>
<line x1="50.6" y1="666.6" x2="50.6" y2="697" stroke-width="1.68" />
<g id="w782">
<ellipse cx="84.4" cy="688.6" rx="7.6" ry="10.6" stroke-width="1.46" fill="#fff" transform="rotate(-22 84.4 688.6)" />
<path d="M78.4,678.6 L82.6,678 M82,699.4 L86.6,698.6" stroke-width="1.34" fill="none" />
<ellipse cx="80.8" cy="688.6" rx="7.6" ry="10.6" stroke-width="1.57" fill="#fff" transform="rotate(-22 80.8 688.6)" />
<ellipse cx="80.9" cy="688.9" rx="2" ry="2.9" stroke-width="1.34" fill="none" transform="rotate(-22 80.9 688.9)" />
</g>
<g id="bolt13">
<path d="M61.6,695.6 L69,692.6 Q71.6,694.4 70.8,698 L63.4,701.6 Z" stroke-width="1.23" fill="#444" />
<path d="M55.6,699.6 L61.6,695.4 L63.6,701.4 L57.6,705.6 Z" stroke-width="1.34" fill="#fff" />
<path d="M39.6,705.6 L51,700.2 L54.6,699.6 Q57.6,702 58,707 Q57.6,710 56.6,711.4 L52.6,713 L44,717.2 Z" stroke-width="1.46" fill="#fff" />
<path d="M50.4,700.4 Q54,704 53,713 M54.6,699.6 L55,703" stroke-width="1.23" fill="none" />
<ellipse cx="41.8" cy="711.4" rx="3.6" ry="6" stroke-width="1.46" fill="#fff" transform="rotate(-22 41.8 711.4)" />
<path d="M52.6,700 Q56.4,703.6 55.4,711.6" stroke-width="2.24" fill="none" />
</g>
<path d="M203.5,655.6 L209,652.9 L214.7,653.9 L214.7,656.8 L206.6,660 L205.6,662 L203.5,659.8 Z" stroke-width="1.68" fill="#fff" />
<path d="M203.5,655.6 L206.4,657.6 L214.7,653.9 M206.4,657.6 L206.6,660" stroke-width="1.46" fill="none" />
<line x1="210" y1="659.4" x2="210" y2="687.8" stroke-width="1.68" />
<text x="184.1" y="707.1" font-size="17.6" textLength="53.4" lengthAdjust="spacingAndGlyphs" >03789</text>
<rect x="265.9" y="638.3" width="48.5" height="58.7" stroke-width="1.5"/>
<line x1="289.9" y1="697" x2="289.9" y2="715.4" stroke-width="1.68" />
<text x="262.9" y="733.5" font-size="17.6" textLength="54.2" lengthAdjust="spacingAndGlyphs" >03018</text>
<g id="brg18">
<path d="M271.9,657.3 C271.9,656 272.6,653.1 274.3,650.7 C276,648.2 277.6,646.6 280.5,645 C283.3,643.3 285.4,642.5 288.6,642.6 C291.7,642.7 293.3,643.3 296.2,645.4 C299,647.5 300.7,649.8 302.9,653 C305,656.3 306.3,659 307.1,661.6 C308,664.3 308.9,664.5 307.2,666.4 C305.6,668.3 301,671.3 299,671.1 C297.1,671 298.8,668.1 297.6,665.4 C296.5,662.8 295.3,660.5 293.3,657.8 C291.3,655.1 289.8,653.7 287.6,652.1 C285.4,650.5 283.9,649.4 282.5,649.8 C281.1,650.2 282.2,652.5 280.6,654 C278.9,655.5 276,656.8 274.3,657.4 C272.6,658.1 271.9,658.7 271.9,657.3 Z" stroke-width="1.68" fill="#fff" />
<path d="M274.3,650.7 L282.5,649.8" stroke-width="1.34" fill="none" />
<path d="M277.1,653 C277.6,652.7 279.2,651.4 280,651.1 C280.8,650.9 281.4,651.5 281.7,651.6" stroke-width="2.69" fill="none" />
<ellipse cx="299.3" cy="657.3" rx="1" ry="1.2" stroke-width="1.23" fill="none" />
<path d="M272.4,666.9 C270.4,668.6 271.9,669.3 272.6,672.1 C273.2,674.9 273.9,677.5 275.7,680.7 C277.5,683.8 278.9,685.5 281.4,687.8 C284,690.1 285.8,691.6 288.6,692.1 C291.3,692.6 291.5,692.1 295.2,690.2 C299,688.3 304.8,685.1 307.1,682.6 C309.5,680 309,677.4 307.1,677.4 C305.3,677.4 300.9,681.5 298.1,682.6 C295.3,683.6 295.4,683.7 293.3,682.6 C291.2,681.4 289.6,679.3 287.6,676.9 C285.6,674.4 284.5,672.9 283.4,670.2 C282.4,667.5 284.6,664.2 282.4,663.5 C280.2,662.9 274.3,665.1 272.4,666.9 Z" stroke-width="1.68" fill="#fff" />
<path d="M274.3,674 C274.9,675.3 276.5,679.2 278.1,681.6 C279.7,684 281.9,686.8 283.8,688.3 C285.7,689.8 287.5,690.9 289.5,690.8 C291.6,690.6 294.9,688.1 296,687.5" stroke-width="1.12" fill="none" />
<path d="M298.1,682.6 C298,683.1 297.7,684.8 297.3,685.9 C297,687 296.2,688.7 296,689.2" stroke-width="1.23" fill="none" />
<path d="M273.3,669.4 C274,669.2 276.4,668.3 277.6,667.8 C278.8,667.3 280,665.7 280.5,666.4 C280.9,667 280.2,670.7 280.2,671.6" stroke-width="2.91" fill="none" />
</g>
<rect x="332.5" y="606.1" width="70.4" height="59.6" stroke-width="1.4"/>
<line x1="366.7" y1="665.7" x2="366.7" y2="686.6" stroke-width="1.68" />
<text x="339.3" y="705.1" font-size="17.6" textLength="55" lengthAdjust="spacingAndGlyphs" >03048</text>
<g id="thrust">
<path d="M360,625.7 C359.6,624.4 359.3,621.9 360,619.9 C360.8,618 362.5,615.3 364.5,614.2 C366.5,613 369.3,612.5 372.2,612.9 C375.1,613.3 378.7,614.5 381.8,616.7 C384.9,619 388.3,622.8 390.8,626.3 C393.2,629.9 395.3,634.9 396.5,637.9 C397.7,640.8 398.1,642.6 397.9,644.3 C397.7,645.9 396.1,647.8 395.4,647.6 C394.6,647.4 394.3,645.2 393.3,643 C392.3,640.7 391.2,637 389.5,634 C387.8,631 385.4,627.4 383.1,625.1 C380.7,622.7 377.7,620.6 375.4,619.9 C373,619.3 370.6,620.4 369,621.2 C367.4,622.1 366.8,623.9 365.8,625.1 C364.7,626.2 363.5,627.8 362.6,627.9 C361.6,628 360.4,627 360,625.7 Z" stroke-width="1.68" fill="#fff" />
<path d="M366.4,614.6 C367.7,614.6 371.3,613.9 374.1,614.8 C376.9,615.7 380.3,617.5 383.1,619.9 C385.8,622.4 388.7,626.3 390.8,629.5 C392.8,632.7 394.3,636.6 395.2,639.1 C396.1,641.7 396,643.9 396.1,644.9" stroke-width="1.01" fill="none" />
<path d="M337,639.1 C336.4,637.8 335.7,635.2 336.3,633.4 C337,631.6 339,629.4 340.8,628.3 C342.6,627.1 344.6,626.1 347.2,626.3 C349.8,626.5 353.2,627.6 356.2,629.5 C359.2,631.5 362.6,634.6 365.1,637.9 C367.7,641.2 370.1,646 371.5,649.4 C373,652.8 373.9,656.4 374.1,658.4 C374.3,660.3 373.7,661.3 372.8,661.3 C372,661.3 370.2,660.1 369,658.4 C367.8,656.6 366.8,653.2 365.8,650.7 C364.7,648.1 364,645.3 362.6,643 C361.2,640.6 359.6,638.2 357.5,636.6 C355.3,635 351.9,633.7 349.8,633.4 C347.6,633.1 346,633.7 344.6,634.7 C343.3,635.6 342.3,638.1 341.4,639.1 C340.6,640.2 340.3,641.2 339.5,641.2 C338.8,641.2 337.5,640.4 337,639.1 Z" stroke-width="1.68" fill="#fff" />
<path d="M344.6,627.4 L344.6,634" stroke-width="1.46" fill="none" />
<path d="M347.2,626.7 L347.2,633.5" stroke-width="2.46" fill="none" />
<path d="M361.6,635.6 L364.4,640.4" stroke-width="1.46" fill="none" />
<path d="M348.5,628.3 C349.9,628.8 354.2,629.9 356.8,631.7 C359.4,633.6 362,636.4 364.1,639.4 C366.3,642.4 368.3,646.5 369.6,649.6 C371,652.8 371.8,656.9 372.2,658.4" stroke-width="1.01" fill="none" />
<path d="M363.2,640.4 L366.2,639.4" stroke-width="2.02" fill="none" />
</g>
<text x="224" y="510.7" font-size="17.6" textLength="53.4" lengthAdjust="spacingAndGlyphs" >03000</text>
<line x1="250.5" y1="515.6" x2="250.5" y2="547" stroke-width="1.68" />
<g id="crank">
<ellipse cx="355.6" cy="532.4" rx="12.8" ry="24.2" stroke-width="1.76" fill="#fff" transform="rotate(-22 355.6 532.4)" />
<ellipse cx="351.8" cy="534.6" rx="12.8" ry="24.2" stroke-width="1.62" fill="#fff" transform="rotate(-22 351.8 534.6)" />
<ellipse cx="349.2" cy="536.2" rx="11.2" ry="21.3" stroke-width="1.49" fill="#fff" transform="rotate(-22 349.2 536.2)" />
<ellipse cx="340.9" cy="516.3" rx="1.7" ry="2.9" stroke-width="1.49" fill="none" transform="rotate(-22 340.9 516.3)" />
<ellipse cx="354.9" cy="525.4" rx="1.7" ry="2.9" stroke-width="1.49" fill="none" transform="rotate(-22 354.9 525.4)" />
<ellipse cx="361.4" cy="539.3" rx="1.7" ry="2.9" stroke-width="1.49" fill="none" transform="rotate(-22 361.4 539.3)" />
<ellipse cx="358.1" cy="550.8" rx="1.7" ry="2.9" stroke-width="1.49" fill="none" transform="rotate(-22 358.1 550.8)" />
<path d="M336,544.9 C337.9,542.2 341.9,541.4 343.9,542.2 C345.9,542.9 347,546.8 347.8,549.3 C348.7,551.8 348,554.5 348.8,557.1 C349.6,559.8 351.4,562.7 352.8,565 C354.1,567.4 356.7,569.4 356.9,571.3 C357.1,573.3 356.1,575.5 353.9,576.8 C351.8,578.2 347,579.1 343.9,579.4 C340.7,579.7 337.5,579.4 335,578.6 C332.6,577.9 330.2,576.8 329.1,574.9 C328,572.9 328,569.7 328.5,567 C329,564.3 331,562.4 332.3,558.7 C333.5,555 334.1,547.7 336,544.9 Z" stroke-width="1.76" fill="#fff" />
<path d="M347.8,549.3 C347.5,550.9 345.9,556.2 346.1,559.1 C346.2,562.1 347.3,564.8 348.8,567 C350.3,569.2 354.1,571.3 355.1,572.1" stroke-width="1.35" fill="none" />
<path d="M332.3,558.7 C332.7,559.8 334.5,562.7 335,565 C335.6,567.4 335.4,570.6 335.4,572.9 C335.4,575.2 335.1,577.7 335,578.6" stroke-width="1.35" fill="none" />
<path d="M336.2,549.3 L345.7,547.3" stroke-width="1.35" fill="none" />
<path d="M336.4,552.8 L345.1,550.8" stroke-width="1.35" fill="none" />
<path d="M336.8,556.4 L344.7,554.6" stroke-width="1.35" fill="none" />
<path d="M344.9,534.5 L346.8,539.4 L350.4,541.4 L347.8,545.7" stroke-width="1.49" fill="none" />
<ellipse cx="347.2" cy="536.3" rx="1.2" ry="1.6" stroke-width="2.03" fill="none" />
<ellipse cx="348.4" cy="551.6" rx="1.2" ry="2" stroke-width="2.03" fill="none" />
<path d="M302.5,529.6 C302.7,527.4 304.5,525.5 306.5,523.6 C308.4,521.8 311.8,520.3 314.3,518.7 C316.9,517.1 319.2,515 321.6,514.2 C324.1,513.4 326.9,513.4 329.1,513.8 C331.3,514.2 333.5,515.4 335,516.7 C336.5,518.1 337.4,519.5 338.2,521.7 C339,523.8 339.8,526.9 340,529.6 C340.1,532.2 339.8,534.8 339,537.4 C338.1,540.1 336.1,542.4 335,545.3 C334,548.3 332.9,551.9 332.7,555.2 C332.4,558.5 333.7,561.7 333.4,565 C333.2,568.3 331.8,571.4 331.1,574.9 C330.4,578.3 330.7,583.3 329.1,585.7 C327.5,588.1 323.9,589.2 321.6,589.1 C319.4,589 315.7,587.1 315.7,585.1 C315.7,583.2 319.7,580.3 321.6,577.2 C323.5,574.2 326.4,570 327.1,567 C327.9,564 327.1,561.7 326.2,559.1 C325.2,556.6 323.9,554.4 321.6,551.6 C319.3,548.8 315.1,544.9 312.4,542.4 C309.7,539.8 307.1,538.6 305.5,536.5 C303.8,534.3 302.3,531.7 302.5,529.6 Z" stroke-width="1.76" fill="#fff" />
<path d="M314.3,518.7 C314.6,520.2 315.9,524.1 315.9,527.6 C315.9,531 314.6,537.4 314.3,539.4" stroke-width="1.35" fill="none" />
<path d="M316.5,519.7 C316.8,521.3 318.3,525.8 318.5,529.6 C318.6,533.3 317.5,540.2 317.3,542.4" stroke-width="1.35" fill="none" />
<path d="M321.6,514.8 C321.4,516.6 320.2,521.5 320.2,525.6 C320.2,529.7 320.5,535.1 321.6,539.4 C322.8,543.7 326.2,549.3 327.1,551.2" stroke-width="1.35" fill="none" />
<path d="M324.2,515.8 C325.4,516.7 329.7,519.4 331.5,521.7 C333.3,524 334.3,526.9 335,529.6 C335.8,532.2 335.8,536.1 336,537.4" stroke-width="1.76" fill="none" />
<path d="M326.6,514.2 C327.8,515.1 332.3,517.5 334.2,519.7 C336.2,521.9 337.4,525 338.2,527.6 C339,530.2 338.8,534.2 339,535.5" stroke-width="1.62" fill="none" />
<path d="M321.6,529.6 C322.5,530.5 325.6,533 327.1,535.5 C328.7,537.9 330.1,542.9 330.7,544.3" stroke-width="1.35" fill="none" />
<path d="M312.4,542.4 C313.5,542.8 317,543.8 319.3,544.9 C321.6,546.1 325,548.5 326.2,549.3" stroke-width="2.16" fill="none" />
<ellipse cx="333.1" cy="536.7" rx="1.7" ry="2.1" stroke-width="1.62" fill="none" />
<path d="M327.1,567 C327.5,568.3 328.8,571.8 329.1,574.9 C329.4,578 329.1,583.9 329.1,585.7" stroke-width="1.35" fill="none" />
<path d="M321.6,577.2 C322.1,578.2 324.2,580.8 324.2,582.8 C324.2,584.7 322.1,588 321.6,589.1" stroke-width="1.35" fill="none" />
<path d="M281.8,529.6 C283.6,527.9 289.6,528.3 293.6,529.2 C297.6,530.1 301.9,531.9 306,535 C310.1,538.1 314.7,543.5 318,548 C321.3,552.5 324.6,558.5 326,562 C327.4,565.5 327.4,566.8 326.5,569 C325.6,571.2 324.2,575.5 320.5,575 C316.8,574.5 308.9,569.9 304.5,566 C300.1,562.1 297.4,556 293.8,551.6 C290.2,547.2 284.8,543.3 282.8,539.6 C280.8,535.9 280,531.3 281.8,529.6 Z" stroke-width="1.69" fill="#fff" />
<path d="M269.2,538.3 C271,535.6 277.2,533.1 281,532 C284.8,530.9 288,530.2 292,531.5 C296,532.8 301.7,537.2 305,540 C308.3,542.8 310,545.3 312,548 C314,550.7 315.5,552.7 317,556 C318.5,559.3 321.3,565 321,568 C320.7,571 318.7,574.5 315,574 C311.3,573.5 304.6,567.3 299,565 C293.4,562.7 286,563.1 281.2,560.3 C276.4,557.5 272.2,552 270.2,548.3 C268.2,544.6 267.4,541 269.2,538.3 Z" stroke-width="1.69" fill="#fff" />
<path d="M256,544.9 C258,542.1 265.1,539.5 269.2,538.3 C273.3,537.1 276.6,535.9 280.7,537.5 C284.8,539.1 290.4,544.9 293.8,548.1 C297.2,551.4 298.8,554 301,557 C303.2,560 305.5,563.6 307,566.2 C308.5,568.8 310.7,570.7 310.2,572.8 C309.7,574.9 307.9,579.3 304.2,578.8 C300.5,578.3 294.2,571.8 288.2,569.8 C282.2,567.8 273.2,569.4 268,566.9 C262.8,564.4 259,558.6 257,554.9 C255,551.2 254,547.7 256,544.9 Z" stroke-width="1.69" fill="#fff" />
<path d="M246.2,549.8 C247.7,547.3 252.2,546 256,544.9 C259.8,543.8 265.5,542.7 269.2,543.2 C272.9,543.7 275.3,546.1 278,548 C280.7,549.9 282.8,551.7 285.6,554.7 C288.4,557.7 292.3,562.2 295,566 C297.7,569.8 301.8,574.8 302,577.7 C302.2,580.7 299.7,584.2 296,583.7 C292.3,583.2 286.3,576.7 280,574.7 C273.7,572.7 263.7,574.3 258.2,571.8 C252.7,569.3 249.2,563.5 247.2,559.8 C245.2,556.1 244.7,552.3 246.2,549.8 Z" stroke-width="1.69" fill="#fff" />
<path d="M238,553.9 C239.2,551.5 243.5,550.4 246.2,549.8 C248.9,549.2 251.4,549 254.4,550.1 C257.4,551.2 261.2,553.9 264.3,556.3 C267.4,558.7 270.3,561.8 273,564.5 C275.7,567.2 278.6,569.5 280.7,572.8 C282.8,576.1 285.8,581.4 285.6,584.3 C285.4,587.2 283.3,590.8 279.6,590.3 C275.9,589.8 268.5,583.7 263.6,581.3 C258.7,578.9 254.1,578.8 250,575.9 C245.9,573 241,567.6 239,563.9 C237,560.2 236.8,556.2 238,553.9 Z" stroke-width="1.69" fill="#fff" />
<path d="M232.2,558 C233,555.6 235.7,554.7 238,553.9 C240.3,553.1 243.2,552.4 246.2,553.4 C249.2,554.4 253,557.2 256,559.6 C259,562 261.5,564.8 264,567.5 C266.5,570.2 268.2,572.4 270.8,576 C273.4,579.6 279.4,586 279.9,589.2 C280.4,592.4 277.6,595.7 273.9,595.2 C270.2,594.7 262.8,588.7 257.9,586.2 C252.9,583.7 248.3,583 244.2,580 C240.1,577 235.2,571.7 233.2,568 C231.2,564.3 231.4,560.4 232.2,558 Z" stroke-width="1.69" fill="#fff" />
<path d="M221.6,570.3 C222,567.6 223.1,566.2 224.9,564.2 C226.7,562.2 229.8,559 232.2,558 C234.6,557 237,557.3 239.6,558 C242.2,558.7 245.1,560.1 247.8,562.1 C250.5,564.1 253.2,567 256,570.3 C258.8,573.6 262,578.1 264.3,581.8 C266.6,585.5 268.6,589.5 270,592.5 C271.4,595.5 273.1,597.7 272.5,599.9 C271.9,602.1 270.2,606.4 266.5,605.9 C262.8,605.4 256,599.2 250.5,596.9 C245,594.6 238.2,595.1 233.6,592.3 C228.9,589.5 224.6,584 222.6,580.3 C220.6,576.6 221.2,573 221.6,570.3 Z" stroke-width="1.69" fill="#fff" />
<path d="M224.9,564.2 C226,563.9 228.7,562.1 231.4,562.6 C234.1,563.1 238.2,564.8 241.3,567 C244.5,569.2 247.5,572.6 250.3,576 C253.1,579.4 255.7,583.6 258,587.6 C260.3,591.6 263.2,597.9 264.3,599.9" stroke-width="1.35" fill="none" />
<path d="M272.5,599.9 C272.5,597.5 273.1,592.1 274.4,590 C275.8,587.9 278.5,588.2 280.7,587.2 C282.8,586.3 285.7,583.9 287.2,584.3 C288.8,584.6 288.9,589.2 289.7,589.2 C290.5,589.2 290.9,586.1 292.2,584.3 C293.4,582.4 295,579.4 297.1,578 C299.2,576.7 302.4,576.9 304.5,576.1 C306.5,575.2 308.2,572.4 309.4,572.8 C310.6,573.1 312,575.3 311.9,578 C311.7,580.8 310,586 308.6,589.2 C307.2,592.4 305.6,595.5 303.7,597.4 C301.8,599.3 299.8,599.5 297.1,600.4 C294.4,601.2 290,602.9 287.2,602.7 C284.5,602.4 282.3,600.7 280.7,599 C279,597.3 278.5,591.7 277.4,592.5 C276.3,593.3 274.9,602.7 274.1,604 C273.3,605.2 272.4,602.2 272.5,599.9 Z" stroke-width="1.62" fill="#fff" />
<path d="M289.7,589.2 C290.1,590.3 290.9,593.9 292.2,595.8 C293.4,597.6 296.3,599.6 297.1,600.4" stroke-width="1.35" fill="none" />
<path d="M292.2,578 C292.7,579.1 294.3,582.1 295.5,584.3 C296.6,586.4 298.7,588.9 299.1,590.8 C299.5,592.8 298.1,595.2 297.9,596.1" stroke-width="1.76" fill="none" />
<path d="M294.6,576.1 C295.4,577.1 297.8,580.3 299.1,582.6 C300.3,584.9 301.8,587.9 302,590 C302.2,592.1 300.7,594.5 300.4,595.4" stroke-width="1.62" fill="none" />
<path d="M280.7,587.2 C281,588.4 281.6,591.5 282.7,594.1 C283.7,596.7 286.5,601.2 287.2,602.7" stroke-width="1.35" fill="none" />
<path d="M304.5,576.1 C304.9,577.1 307.1,579.1 307,582.6 C306.8,586.2 304.2,594.9 303.7,597.4" stroke-width="1.35" fill="none" />
<ellipse cx="295.8" cy="584.3" rx="1.3" ry="1.7" stroke-width="1.49" fill="none" />
<path d="M274.1,589.2 L287.2,584.3" stroke-width="2.7" fill="none" />
<path d="M265.9,598.8 C266.4,596.1 268.9,593.6 270.4,592.5 C271.9,591.4 273.4,593 274.9,592.2 C276.4,591.3 277.9,587.8 279.4,587.5 C280.9,587.1 282.6,588.5 283.9,590 C285.3,591.4 287.5,594.1 287.5,596.1 C287.5,598.1 285.4,600.3 283.9,601.9 C282.4,603.5 280,603.5 278.5,605.5 C277,607.6 276.4,611.8 274.9,614.2 C273.4,616.5 271.1,619 269.5,619.6 C267.8,620.2 265.3,619.6 265,617.8 C264.6,616 267.2,611.9 267.3,608.8 C267.5,605.6 265.4,601.5 265.9,598.8 Z" stroke-width="1.62" fill="#fff" />
<path d="M274.9,592.2 C275.1,593.3 275.7,596.6 276.3,598.8 C276.9,601.1 278.2,604.4 278.5,605.5" stroke-width="1.35" fill="none" />
<path d="M253.6,598.8 C255.2,596.5 257.6,594.9 259.5,594.9 C261.4,594.8 263.5,596.5 265,598.5 C266.4,600.5 267.8,604.3 268,607 C268.2,609.6 267.1,612.7 266.2,614.6 C265.3,616.4 264,617.2 262.6,618.2 C261.2,619.2 259.5,619.6 257.7,620.5 C256,621.4 254.3,623.1 252.3,623.6 C250.4,624 247.8,623.9 246,623.2 C244.2,622.6 241.8,621.1 241.5,619.6 C241.2,618.1 242.8,616 244.2,614.2 C245.5,612.4 248,611.3 249.6,608.8 C251.2,606.2 251.9,601.2 253.6,598.8 Z" stroke-width="1.76" fill="#fff" />
<path d="M255.9,601.2 C256.7,600.8 259.1,598.5 260.4,598.8 C261.8,599.2 263.3,601.3 264.1,603.4 C264.8,605.4 265.4,609 265.1,610.9 C264.9,612.9 263,614.6 262.6,615.3" stroke-width="1.62" fill="none" />
<path d="M253.6,598.8 C253.8,600.3 254.3,603.7 255,607.3 C255.7,610.9 257.3,618.3 257.7,620.5" stroke-width="1.49" fill="none" />
<ellipse cx="259.5" cy="602.3" rx="1.3" ry="1.7" stroke-width="1.49" fill="none" />
<path d="M246,623.2 C246.6,622.3 248.1,619.3 249.6,617.8 C251.1,616.3 254.1,614.8 255,614.2" stroke-width="1.35" fill="none" />
<path d="M234.3,583.1 C235.2,580.5 238.3,580.3 240.6,580.4 C242.8,580.6 245.8,581.8 247.8,584 C249.8,586.3 251.4,590.4 252.3,594 C253.3,597.5 253.8,602.1 253.6,605.2 C253.4,608.2 252.3,610.3 251.1,612.4 C249.9,614.4 247.8,617.1 246.4,617.4 C244.9,617.7 243.7,615.9 242.4,614.2 C241.1,612.5 239.6,610.3 238.4,607.3 C237.2,604.3 235.9,600.2 235.2,596.1 C234.5,592.1 233.4,585.7 234.3,583.1 Z" stroke-width="2.03" fill="#fff" />
<path d="M236.4,586.7 C237.3,586.4 239.7,584.5 241.5,584.9 C243.2,585.4 245.5,587 246.9,589.4 C248.3,591.9 249.6,596.5 250,599.7 C250.3,603 249.7,606.4 249.1,608.8 C248.5,611.2 246.8,613.3 246.4,614.2" stroke-width="1.76" fill="none" />
<ellipse cx="246.4" cy="604.4" rx="1.3" ry="1.7" stroke-width="1.49" fill="none" />
<path d="M237.3,589.8 C238.2,590 241,589.4 242.4,590.7 C243.8,592.1 245,596.1 245.6,597.9 C246.2,599.8 245.9,601.2 246,601.9" stroke-width="1.35" fill="none" />
<path d="M217.1,601.5 C219.1,599.5 221.5,605.3 223.4,607.3 C225.4,609.3 226.9,612.6 228.8,613.5 C230.8,614.3 233.6,611.7 235.2,612.4 C236.8,613.1 237.7,615.4 238.4,617.8 C239.1,620.2 239.5,623.8 239.3,626.8 C239.2,629.8 238.3,633.3 237.5,635.9 C236.7,638.5 235.9,640.5 234.4,642.4 C233,644.2 231.3,646 228.8,647.1 C226.4,648.2 223.1,649.6 219.8,648.9 C216.5,648.2 211.4,645.4 209,642.7 C206.6,640.1 204.9,637 205.4,633.2 C205.8,629.3 209.7,624.9 211.7,619.6 C213.6,614.3 215.1,603.6 217.1,601.5 Z" stroke-width="1.76" fill="#fff" />
<path d="M228.8,613.5 C228.3,614.8 226.5,618.7 225.4,621.4 C224.4,624.1 222.9,626.8 222.5,629.5 C222.2,632.3 222.2,634.8 223.2,637.7 C224.3,640.6 227.9,645.5 228.8,647.1" stroke-width="1.49" fill="none" />
<path d="M232.4,613.1 C232.1,614.5 230.4,618.5 230.1,621.4 C229.8,624.3 230.1,627.7 230.8,630.4 C231.5,633.2 233.8,636.5 234.4,637.7" stroke-width="1.35" fill="none" />
<path d="M217.1,621.4 L221.8,629.5" stroke-width="1.35" fill="none" />
<path d="M193.6,598.8 C192.7,597.3 194.7,595.4 195.4,593.4 C196.2,591.5 196.8,589.1 198.1,587.1 C199.5,585.1 201.9,583 203.5,581.7 C205.2,580.3 206.6,579.6 208.1,579 C209.6,578.3 211.4,576.6 212.6,577.7 C213.8,578.8 214.2,582.2 215.3,585.3 C216.3,588.4 217.5,592.5 218.9,596.1 C220.3,599.8 222.2,604.3 223.4,607.3 C224.6,610.3 226.6,612.1 226.1,614.2 C225.7,616.2 222.5,619.9 220.7,619.6 C218.9,619.3 217.4,614.8 215.3,612.4 C213.2,610 210.5,606.8 208.1,605.2 C205.7,603.5 203.2,603.5 200.8,602.4 C198.4,601.4 194.5,600.3 193.6,598.8 Z" stroke-width="1.76" fill="#fff" />
<path d="M198.1,587.1 C199.2,587.1 202.5,586.6 204.5,587.1 C206.4,587.5 208.4,588.5 209.9,589.8 C211.4,591.2 212.3,593 213.5,595.2 C214.7,597.5 216.5,602 217.1,603.4" stroke-width="1.35" fill="none" />
<path d="M208.1,579 C208.2,580 208.7,583.5 209,585.3 C209.3,587.1 209.7,589.1 209.9,589.8" stroke-width="1.35" fill="none" />
<path d="M195.4,593.4 C196.6,593.6 200.5,593.6 202.6,594.3 C204.8,595.1 206.4,596.3 208.1,597.9 C209.7,599.6 211.8,603.2 212.6,604.3" stroke-width="1.35" fill="none" />
<path d="M203.5,581.7 L204.8,587.1" stroke-width="1.35" fill="none" />
<path d="M213.5,577.2 C214.2,575.3 217.5,574.2 219.8,574.1 C222.1,574 224.9,574.9 227,576.6 C229.1,578.3 231.2,581.3 232.4,584.4 C233.7,587.5 234.5,591.6 234.6,595.2 C234.8,598.8 234.2,602.9 233.4,606.1 C232.5,609.2 230.6,612.8 229.4,614.2 C228.2,615.5 227.1,615.4 226.1,614.2 C225.1,613 224.6,610 223.4,607 C222.2,604 220.3,599.7 218.9,596.1 C217.5,592.5 216.2,588.5 215.3,585.3 C214.4,582.1 212.7,579 213.5,577.2 Z" stroke-width="2.03" fill="#fff" />
<path d="M216.2,580.2 C217.1,579.9 219.8,577.8 221.6,578.1 C223.4,578.4 225.5,579.9 227,582 C228.6,584.1 230.1,587.5 230.8,590.7 C231.6,594 231.8,598.4 231.5,601.5 C231.2,604.7 229.4,608.3 229,609.7" stroke-width="1.76" fill="none" />
<ellipse cx="228.3" cy="596.3" rx="1.3" ry="1.7" stroke-width="1.49" fill="none" />
<path d="M218.5,583.5 C219.4,583.6 222,583.2 223.4,584.4 C224.8,585.6 226.3,589.1 227,590.7 C227.8,592.4 227.8,593.7 227.9,594.3" stroke-width="1.35" fill="none" />
<path d="M193.1,608.9 C193.2,605.5 194.3,604.7 195.2,603.7 C196.1,602.6 197,602.8 198.5,602.5 C200,602.2 202.3,601.6 204.3,602 C206.2,602.5 208.2,603.5 210,605.3 C211.8,607.1 213.9,610.1 214.9,612.7 C215.9,615.3 216.4,618.4 216.1,620.9 C215.8,623.4 214.6,625.6 213.3,627.5 C212,629.3 210.1,630.8 208.4,632.1 C206.6,633.3 204.3,634.5 202.6,635 C200.9,635.6 199.4,637.2 198,635.4 C196.7,633.5 195.2,628.6 194.4,624.2 C193.6,619.8 193,612.3 193.1,608.9 Z" stroke-width="1.76" fill="#fff" />
<path d="M193.1,608.9 C193.9,608.8 196.3,607.4 198,608.1 C199.7,608.8 202.1,610.8 203.4,613 C204.8,615.2 206,618.4 206.2,621.2 C206.5,624.1 205.9,627.6 205.1,629.9 C204.3,632.3 201.9,634.4 201.3,635.4" stroke-width="1.62" fill="none" />
<ellipse cx="212" cy="625" rx="1.4" ry="1.5" stroke-width="1.49" fill="none" />
<path d="M179.6,618.8 C180.5,615.9 190,610.2 193.1,608.9 C196.2,607.6 196.4,609.3 198,611.1 C199.6,612.8 201.9,616.3 202.6,619.3 C203.4,622.3 203.4,626.5 202.6,629.1 C201.9,631.7 200,634.1 198,635 C196.1,635.9 192.5,635.9 190.8,634.4 C189.1,632.8 189.7,628.4 187.8,625.8 C186,623.2 178.8,621.6 179.6,618.8 Z" stroke-width="1.62" fill="#fff" />
<path d="M179.6,618.8 C180.6,619.1 183.7,619.3 185.4,620.6 C187,621.9 188.6,624.5 189.5,626.7 C190.4,628.8 190.6,632.5 190.8,633.7" stroke-width="1.89" fill="none" />
<path d="M178,621.7 C178.9,622 182.1,622.3 183.7,623.4 C185.3,624.5 186.7,626.3 187.5,628.3 C188.3,630.3 188.5,634.2 188.7,635.4" stroke-width="1.76" fill="none" />
<path d="M181.3,617.6 C182.3,617.9 185.5,618.2 187.2,619.6 C188.9,621 190.5,623.6 191.5,625.8 C192.4,628.1 192.5,631.9 192.8,633.1" stroke-width="1.35" fill="none" />
<path d="M163.2,631.9 L178,621.7 L183.7,623.4 L187.5,628.3 L188.7,635.4 L187.8,637.3 L169.8,646.8 Z" stroke-width="1.76" fill="#fff" />
<ellipse cx="166.2" cy="639" rx="5.4" ry="8.1" stroke-width="2.03" fill="#fff" transform="rotate(-33 166.2 639)" />
<ellipse cx="166.2" cy="639" rx="3.3" ry="4.9" stroke-width="1.62" fill="none" transform="rotate(-33 166.2 639)" />
<ellipse cx="166.6" cy="639.2" rx="1.9" ry="3" stroke-width="1.35" fill="none" transform="rotate(-33 166.6 639.2)" />
<path d="M174.4,641.6 L181.3,638.3 L181.8,637 L175,640.3 Z" stroke-width="1.35" fill="none" />
</g>
</svg>
</body></html>
